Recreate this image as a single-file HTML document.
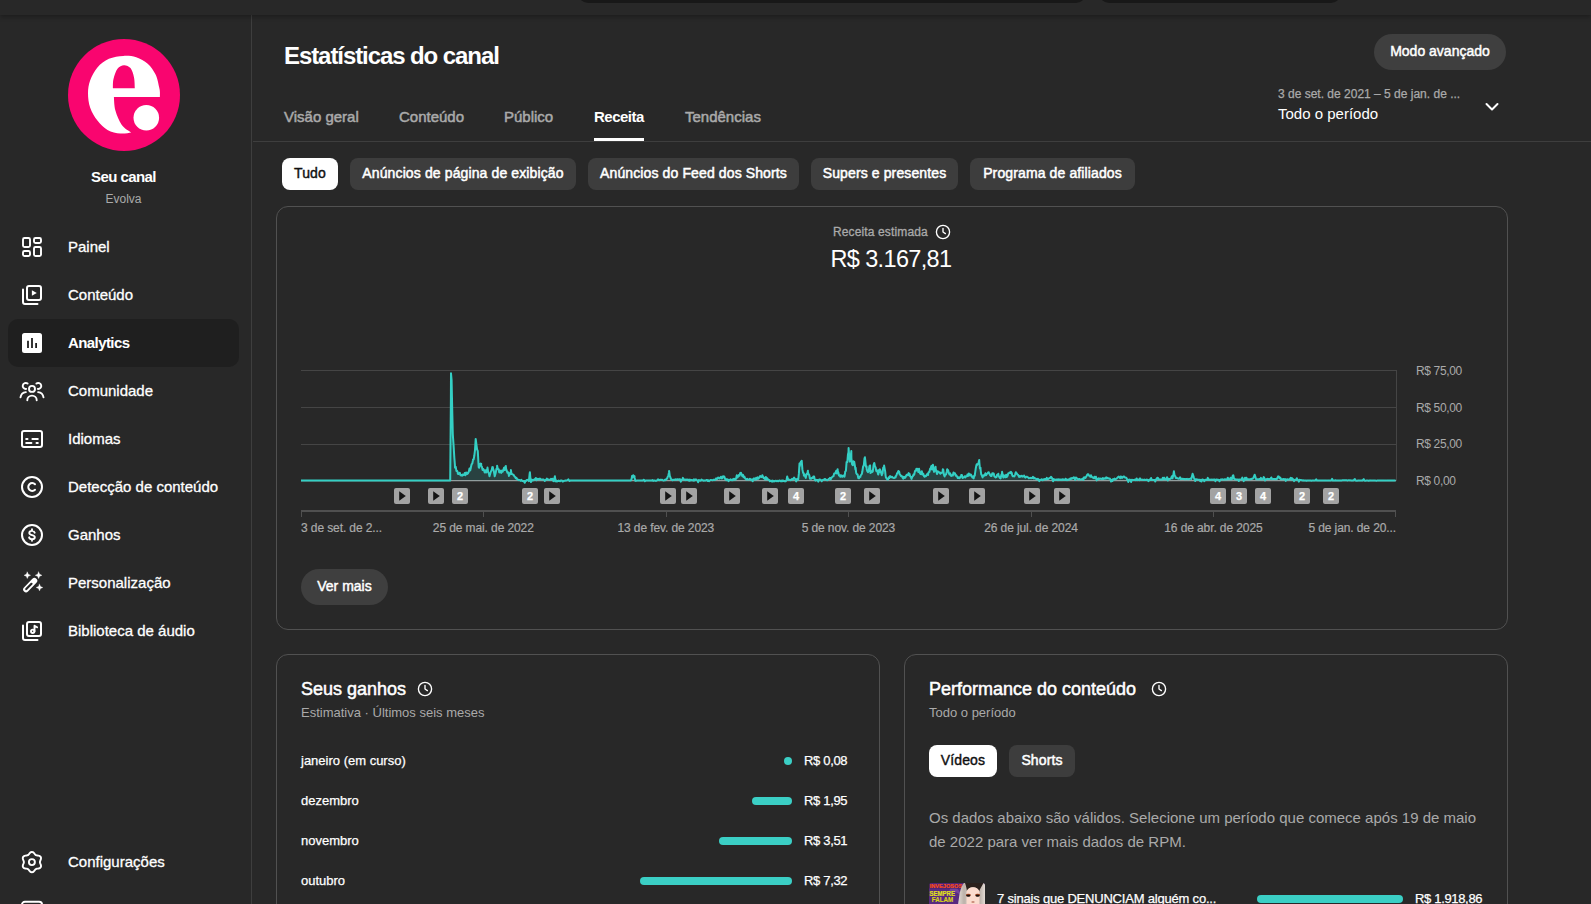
<!DOCTYPE html>
<html lang="pt-BR">
<head>
<meta charset="utf-8">
<title>Estatísticas do canal - YouTube Studio</title>
<style>
*{box-sizing:border-box;margin:0;padding:0}
html,body{width:1591px;height:904px;overflow:hidden;background:#282828;color:#fff;
  font-family:"Liberation Sans",sans-serif;-webkit-font-smoothing:antialiased}
.abs{position:absolute}
.t{position:absolute;white-space:nowrap;line-height:1}
#topbar{position:absolute;left:0;top:0;width:1591px;height:15px;background:#282828;box-shadow:0 2px 5px rgba(0,0,0,.3);z-index:5}
#topbar .sb{position:absolute;top:-30px;height:33px;background:#181818;border-radius:10px}
#side{position:absolute;left:0;top:0;width:252px;height:904px;border-right:1px solid #3e3e3e}
.nav{position:absolute;left:8px;width:231px;height:48px;border-radius:10px}
.nav.on{background:#1f1f1f}
.nav svg{position:absolute;left:12px;top:12px;width:24px;height:24px;fill:none;stroke:#fff;stroke-width:1.9;stroke-linecap:round;stroke-linejoin:round}
.nav span{position:absolute;left:60px;top:16px;font-size:15px;line-height:16px;font-weight:400;white-space:nowrap;color:#fff;-webkit-text-stroke:.3px #fff}
.nav.on span{font-weight:700;-webkit-text-stroke:0;letter-spacing:-.58px}
#main{position:absolute;left:0;top:0;width:1591px;height:904px}
.tab{position:absolute;top:109px;font-size:15px;line-height:16px;color:#aaa;white-space:nowrap;-webkit-text-stroke:.5px #aaa}
.tab.on{color:#fff;font-weight:700;-webkit-text-stroke:0;letter-spacing:-.5px}
.chip{position:absolute;height:32px;border-radius:8px;background:#3d3d3d;color:#fff;font-size:14px;line-height:30px;text-align:center;white-space:nowrap;letter-spacing:.12px;-webkit-text-stroke:.5px #fff}
.chip.on{background:#fff;color:#0f0f0f;-webkit-text-stroke:.4px #0f0f0f}
.card{position:absolute;border:1px solid #515151;border-radius:12px;background:#282828}
.pill{position:absolute;border-radius:18px;background:#3f3f3f;color:#fff;font-size:14px;text-align:center;white-space:nowrap;-webkit-text-stroke:.45px #fff}
</style>
</head>
<body>
<div id="topbar"><div class="sb" style="left:578px;width:508px"></div><div class="sb" style="left:1099px;width:242px"></div></div>

<div id="side">
<svg class="abs" style="left:68px;top:39px" width="112" height="112" viewBox="0 0 112 112">
<circle cx="56" cy="56" r="56" fill="#f9056f"/>
<path fill="#fff" fill-rule="evenodd" d="M91.9 57.9C91.9 57.1 92.0 54.6 91.9 53.0C91.8 51.4 91.9 51.4 91.2 48.5C90.5 45.6 89.5 39.6 87.6 35.6C85.7 31.7 82.9 27.7 79.7 24.8C76.5 21.9 72.3 19.6 68.2 18.3C64.1 17.0 59.8 16.6 55.3 16.9C50.8 17.1 45.2 17.9 40.9 19.8C36.6 21.7 32.5 24.8 29.4 28.4C26.3 32.0 23.8 37.0 22.2 41.3C20.6 45.6 20.0 49.7 20.0 54.3C20.0 58.9 20.6 64.2 22.2 68.7C23.8 73.2 26.5 77.9 29.4 81.6C32.3 85.3 35.7 88.8 39.5 90.9C43.3 93.1 48.4 94.1 52.4 94.5C56.4 94.9 61.4 93.6 63.2 93.4L63.2 93.4C61.6 92.2 56.4 89.6 53.8 85.9C51.2 82.2 48.7 76.2 47.4 71.5C46.1 66.8 46.1 60.2 45.9 57.9Z M44.9 49.2C45.0 47.7 44.7 43.1 45.5 39.9C46.3 36.7 47.8 32.1 49.5 29.8C51.2 27.5 53.8 26.3 56.0 26.2C58.2 26.1 60.8 27.1 62.5 29.1C64.2 31.2 65.3 35.1 66.0 38.5C66.7 41.9 66.7 47.4 66.8 49.2Z"/>
<circle cx="78.300" cy="78.700" r="12.800" fill="#fff"/>
</svg>
<div class="t" style="left:0;width:247px;text-align:center;top:169px;font-size:15px;font-weight:700;letter-spacing:-.58px">Seu canal</div>
<div class="t" style="left:0;width:247px;text-align:center;top:193px;font-size:12px;color:#aaa">Evolva</div>

<div class="nav" style="top:223px"><svg viewBox="0 0 24 24" stroke-width="2"><rect x="3" y="3" width="7" height="9" rx="1.500"/><rect x="14" y="3" width="7" height="5" rx="1.500"/><rect x="3" y="16" width="7" height="5" rx="1.500"/><rect x="14" y="12" width="7" height="9" rx="1.500"/></svg><span>Painel</span></div>
<div class="nav" style="top:271px"><svg viewBox="0 0 24 24"><rect x="7" y="3" width="14" height="14" rx="2" stroke-width="2"/><path d="M3 6.500v12.500a2 2 0 0 0 2 2H17.500" stroke-width="2"/><path d="M11.900 7.300v5.400l4.900-2.700z" fill="#fff" stroke="none"/></svg><span>Conteúdo</span></div>
<div class="nav on" style="top:319px"><svg viewBox="0 0 24 24"><path fill="#fff" stroke="none" fill-rule="evenodd" d="M4.500 2h15a2.500 2.500 0 0 1 2.500 2.500v15a2.500 2.500 0 0 1-2.500 2.500h-15a2.500 2.500 0 0 1-2.500-2.500v-15a2.500 2.500 0 0 1 2.500-2.500zM7.100 9.700h1.800v7.200H7.100zM11.100 7h1.800v9.900h-1.800zM15.200 12h1.800v4.900h-1.800z"/></svg><span>Analytics</span></div>
<div class="nav" style="top:367px"><svg viewBox="0 0 24 24" style="overflow:visible"><circle cx="12" cy="9.900" r="3"/><path d="M7.300 21.300a4.700 4.700 0 0 1 9.400 0"/><path d="M6.200 9.900A3 3 0 1 1 7.600 4.600"/><path d="M17.800 9.900A3 3 0 1 0 16.400 4.600"/><path d="M0.500 18.400c.4-2.800 2.600-5 5.400-5.300"/><path d="M23.500 18.400c-.4-2.800-2.600-5-5.400-5.300"/></svg><span>Comunidade</span></div>
<div class="nav" style="top:415px"><svg viewBox="0 0 24 24"><rect x="2" y="4" width="20" height="16" rx="2" stroke-width="2"/><path d="M6.200 12h1.300M12.400 12h5.400M6.200 16h5.200M16.500 16h1.300" stroke-width="2"/></svg><span>Idiomas</span></div>
<div class="nav" style="top:463px"><svg viewBox="0 0 24 24"><circle cx="12" cy="12" r="10" stroke-width="2"/><path d="M15 9.300a3.900 3.900 0 1 0 0 5.400" stroke-width="2"/></svg><span>Detecção de conteúdo</span></div>
<div class="nav" style="top:511px"><svg viewBox="0 0 24 24"><circle cx="12" cy="12" r="10" stroke-width="2"/><path d="M14.700 9.700c-.3-1.100-1.300-1.800-2.700-1.800-1.600 0-2.700.8-2.700 2 0 2.900 5.500 1.400 5.500 4.300 0 1.200-1.200 2-2.800 2-1.500 0-2.600-.7-2.900-1.900M12 6.300v1.600M12 16.200v1.600" stroke-width="1.900"/></svg><span>Ganhos</span></div>
<div class="nav" style="top:559px"><svg viewBox="0 0 24 24"><path d="M6 18.400L14.400 9.800" stroke-width="5.700"/><path d="M6.300 18.100L11.500 12.800" stroke="#282828" stroke-width="2.200"/><path fill="#fff" stroke="#fff" stroke-width=".4" d="M7.3 1.0999999999999996L8.3 3.3L10.5 4.3L8.3 5.3L7.3 7.5L6.3 5.3L4.1 4.3L6.3 3.3ZM18.6 1.0L19.6 3.3L21.900000000000002 4.3L19.6 5.3L18.6 7.6L17.6 5.3L15.3 4.3L17.6 3.3ZM19.5 13.2L20.5 15.5L22.8 16.5L20.5 17.5L19.5 19.8L18.5 17.5L16.2 16.5L18.5 15.5Z"/></svg><span>Personalização</span></div>
<div class="nav" style="top:607px"><svg viewBox="0 0 24 24"><rect x="7" y="3" width="14" height="14" rx="2" stroke-width="2"/><path d="M3 6.500v12.500a2 2 0 0 0 2 2H17.500" stroke-width="2"/><circle cx="12.700" cy="12.300" r="1.700"/><path d="M14.500 12.300V6.700l2.600 1.500" stroke-width="1.900"/></svg><span>Biblioteca de áudio</span></div>
<div class="nav" style="top:838px"><svg viewBox="0 0 24 24"><circle cx="11.900" cy="12.100" r="3"/><path d="M12.00 1.90L12.88 2.09L13.68 2.60L14.36 3.31L14.92 4.07L15.44 4.72L16.00 5.17L16.67 5.43L17.50 5.55L18.43 5.67L19.39 5.90L20.23 6.33L20.83 7.00L21.11 7.85L21.07 8.80L20.79 9.74L20.42 10.62L20.12 11.39L20.00 12.10L20.12 12.81L20.42 13.58L20.79 14.46L21.07 15.40L21.11 16.35L20.83 17.20L20.23 17.87L19.39 18.30L18.43 18.53L17.50 18.65L16.67 18.77L16.00 19.03L15.44 19.48L14.92 20.13L14.36 20.89L13.68 21.60L12.88 22.11L12.00 22.30L11.12 22.11L10.32 21.60L9.64 20.89L9.08 20.13L8.56 19.48L8.00 19.03L7.33 18.77L6.50 18.65L5.57 18.53L4.61 18.30L3.77 17.87L3.17 17.20L2.89 16.35L2.93 15.40L3.21 14.46L3.58 13.58L3.88 12.81L4.00 12.10L3.88 11.39L3.58 10.62L3.21 9.74L2.93 8.80L2.89 7.85L3.17 7.00L3.77 6.33L4.61 5.90L5.57 5.67L6.50 5.55L7.33 5.43L8.00 5.17L8.56 4.72L9.08 4.07L9.64 3.31L10.32 2.60L11.12 2.09Z" transform="translate(-.1 0)"/></svg><span>Configurações</span></div>
<div class="nav" style="top:887px"><svg viewBox="0 0 24 24"><rect x="1.900" y="2.800" width="20.200" height="17" rx="3"/></svg><span>Enviar feedback</span></div>
</div>

<div id="main">
<div class="t" style="left:284px;top:44px;font-size:24px;font-weight:700;letter-spacing:-1.08px">Estatísticas do canal</div>
<div class="pill" style="left:1374px;top:34px;width:132px;height:36px;line-height:35px">Modo avançado</div>

<div class="tab" style="left:284px">Visão geral</div>
<div class="tab" style="left:399px">Conteúdo</div>
<div class="tab" style="left:504px">Público</div>
<div class="tab on" style="left:594px">Receita</div>
<div class="tab" style="left:685px">Tendências</div>
<div class="abs" style="left:594px;top:138px;width:50px;height:3px;background:#fff"></div>
<div class="abs" style="left:253px;top:141px;width:1338px;height:1px;background:#3e3e3e"></div>

<div class="t" style="left:1278px;top:88px;font-size:12px;color:#aaa;-webkit-text-stroke:.25px #aaa">3 de set. de 2021 – 5 de jan. de ...</div>
<div class="t" style="left:1278px;top:106px;font-size:15px;color:#fff">Todo o período</div>
<svg class="abs" style="left:1480px;top:95px" width="24" height="24" viewBox="0 0 24 24" fill="none" stroke="#fff" stroke-width="2" stroke-linecap="round" stroke-linejoin="round"><path d="M6.500 9l5.500 5.500L17.500 9"/></svg>

<div class="chip on" style="left:282px;top:158px;width:56px">Tudo</div>
<div class="chip" style="left:350px;top:158px;width:226px">Anúncios de página de exibição</div>
<div class="chip" style="left:588px;top:158px;width:211px">Anúncios do Feed dos Shorts</div>
<div class="chip" style="left:811px;top:158px;width:147px">Supers e presentes</div>
<div class="chip" style="left:970px;top:158px;width:165px">Programa de afiliados</div>

<div class="card" style="left:276px;top:206px;width:1232px;height:424px"></div>
<div class="t" style="left:833px;top:226px;font-size:12px;color:#aaa;letter-spacing:.13px;-webkit-text-stroke:.3px #aaa">Receita estimada</div>
<svg class="abs" style="left:935px;top:224px" width="16" height="16" viewBox="0 0 16 16" fill="none" stroke="#fff" stroke-width="1.350" stroke-linecap="round" stroke-linejoin="round"><circle cx="8" cy="8" r="6.600"/><path d="M8 4.300V8l2.400 1.600"/></svg>
<div class="t" style="left:800px;width:182px;text-align:center;top:248px;font-size:23.5px;letter-spacing:-.65px;color:#fff">R$ 3.167,81</div>
<!--CHART-S--><svg class="abs" style="left:0;top:0" width="1591" height="560" viewBox="0 0 1591 560">
<g stroke="#454545" stroke-width="1" shape-rendering="crispEdges">
<path d="M301 370.5H1396"/>
<path d="M301 407.5H1396"/>
<path d="M301 444.5H1396"/>
<path d="M1396.500 370V481"/>
</g>
<path d="M301 480.600H1396" stroke="#9a9a9a" stroke-width="1.300"/>
<path d="M301.0,480.6 L301.0,480.6 L301.7,480.6 L302.4,480.6 L303.1,480.6 L303.8,480.6 L304.5,480.6 L305.1,480.6 L305.8,480.6 L306.5,480.6 L307.2,480.6 L307.9,480.6 L308.6,480.6 L309.3,480.6 L310.0,480.6 L310.7,480.6 L311.4,480.6 L312.0,480.6 L312.7,480.6 L313.4,480.6 L314.1,480.6 L314.8,480.6 L315.5,480.6 L316.2,480.6 L316.9,480.6 L317.6,480.6 L318.3,480.6 L319.0,480.6 L319.6,480.6 L320.3,480.6 L321.0,480.6 L321.7,480.6 L322.4,480.6 L323.1,480.6 L323.8,480.6 L324.5,480.6 L325.2,480.6 L325.9,480.6 L326.6,480.6 L327.2,480.6 L327.9,480.6 L328.6,480.6 L329.3,480.6 L330.0,480.6 L330.7,480.6 L331.4,480.6 L332.1,480.6 L332.8,480.6 L333.5,480.6 L334.1,480.6 L334.8,480.6 L335.5,480.6 L336.2,480.6 L336.9,480.6 L337.6,480.6 L338.3,480.6 L339.0,480.6 L339.7,480.6 L340.4,480.6 L341.1,480.6 L341.7,480.6 L342.4,480.6 L343.1,480.6 L343.8,480.6 L344.5,480.6 L345.2,480.6 L345.9,480.6 L346.6,480.6 L347.3,480.6 L348.0,480.6 L348.7,480.6 L349.3,480.6 L350.0,480.6 L350.7,480.6 L351.4,480.6 L352.1,480.6 L352.8,480.6 L353.5,480.6 L354.2,480.6 L354.9,480.6 L355.6,480.6 L356.2,480.6 L356.9,480.6 L357.6,480.6 L358.3,480.6 L359.0,480.6 L359.7,480.6 L360.4,480.6 L361.1,480.6 L361.8,480.6 L362.5,480.6 L363.2,480.6 L363.8,480.6 L364.5,480.6 L365.2,480.6 L365.9,480.6 L366.6,480.6 L367.3,480.6 L368.0,480.6 L368.7,480.6 L369.4,480.6 L370.1,480.6 L370.8,480.6 L371.4,480.6 L372.1,480.6 L372.8,480.6 L373.5,480.6 L374.2,480.6 L374.9,480.6 L375.6,480.6 L376.3,480.6 L377.0,480.6 L377.7,480.6 L378.3,480.6 L379.0,480.6 L379.7,480.6 L380.4,480.6 L381.1,480.6 L381.8,480.6 L382.5,480.6 L383.2,480.6 L383.9,480.6 L384.6,480.6 L385.3,480.6 L385.9,480.6 L386.6,480.6 L387.3,480.6 L388.0,480.6 L388.7,480.6 L389.4,480.6 L390.1,480.6 L390.8,480.6 L391.5,480.6 L392.2,480.6 L392.8,480.6 L393.5,480.6 L394.2,480.6 L394.9,480.6 L395.6,480.6 L396.3,480.6 L397.0,480.6 L397.7,480.6 L398.4,480.6 L399.1,480.6 L399.8,480.6 L400.4,480.6 L401.1,480.6 L401.8,480.6 L402.5,480.6 L403.2,480.6 L403.9,480.6 L404.6,480.6 L405.3,480.6 L406.0,480.6 L406.7,480.6 L407.4,480.6 L408.0,480.6 L408.7,480.6 L409.4,480.6 L410.1,480.6 L410.8,480.6 L411.5,480.6 L412.2,480.6 L412.9,480.6 L413.6,480.6 L414.3,480.6 L414.9,480.6 L415.6,480.6 L416.3,480.6 L417.0,480.6 L417.7,480.6 L418.4,480.6 L419.1,480.6 L419.8,480.6 L420.5,480.6 L421.2,480.6 L421.9,480.6 L422.5,480.6 L423.2,480.6 L423.9,480.6 L424.6,480.6 L425.3,480.6 L426.0,480.6 L426.7,480.6 L427.4,480.6 L428.1,480.6 L428.8,480.6 L429.5,480.6 L430.1,480.6 L430.8,480.6 L431.5,480.6 L432.2,480.6 L432.9,480.6 L433.6,480.6 L434.3,480.6 L435.0,480.6 L435.7,480.6 L436.4,480.6 L437.0,480.6 L437.7,480.6 L438.4,480.6 L439.1,480.6 L439.8,480.6 L440.5,480.6 L441.2,480.6 L441.9,480.6 L442.6,480.6 L443.3,480.6 L444.0,480.6 L444.6,480.6 L445.3,480.6 L446.0,480.6 L446.7,480.6 L447.4,480.6 L448.1,480.6 L448.8,480.6 L449.5,480.6 L450.2,480.6 L450.9,398.3 L451.0,373.3 L451.6,380.0 L451.6,380.6 L452.2,409.1 L452.8,434.0 L452.9,435.9 L453.6,445.5 L454.3,457.3 L454.9,464.6 L455.0,467.6 L455.7,466.7 L456.4,470.9 L457.1,470.8 L457.7,472.2 L457.8,473.8 L458.5,474.1 L459.1,473.5 L459.8,472.7 L460.5,475.3 L461.2,475.4 L461.9,474.9 L462.5,475.6 L462.6,474.5 L463.3,475.0 L464.0,475.0 L464.7,473.0 L465.4,475.3 L466.1,472.5 L466.7,473.9 L467.3,472.9 L467.4,473.9 L468.1,473.2 L468.8,471.6 L469.5,468.4 L470.2,470.4 L470.8,468.0 L470.9,467.3 L471.6,464.3 L472.3,463.6 L472.9,460.4 L473.0,459.6 L473.6,459.6 L474.3,455.8 L475.0,450.0 L475.7,438.9 L475.9,440.4 L476.4,444.3 L477.1,449.6 L477.7,450.7 L477.8,451.3 L478.5,464.0 L478.7,467.3 L479.2,467.8 L479.9,464.0 L480.6,463.5 L481.2,463.9 L481.2,465.8 L481.9,466.8 L482.6,470.1 L482.6,470.0 L483.3,469.1 L484.0,470.3 L484.7,472.5 L485.3,472.2 L485.4,470.3 L486.1,472.5 L486.8,470.1 L487.4,468.7 L487.5,467.6 L488.2,472.4 L488.8,473.1 L489.5,476.3 L489.7,475.6 L490.2,473.8 L490.9,471.5 L491.6,470.4 L492.3,467.1 L492.9,467.3 L493.0,468.7 L493.7,470.4 L494.4,474.4 L494.7,476.3 L495.1,474.9 L495.7,472.8 L496.4,468.8 L497.1,468.0 L497.1,465.8 L497.8,469.0 L498.5,468.9 L499.2,472.4 L499.9,470.5 L500.6,471.6 L501.2,472.9 L501.3,471.1 L502.0,470.5 L502.7,471.6 L503.3,470.2 L504.0,467.8 L504.7,470.1 L505.4,466.8 L505.8,466.0 L506.1,468.8 L506.8,470.8 L507.5,472.8 L508.2,472.3 L508.8,475.0 L508.9,475.9 L509.6,474.5 L510.3,473.0 L510.9,471.5 L510.9,470.1 L511.6,474.1 L512.3,473.9 L513.0,474.7 L513.7,475.0 L514.4,476.4 L515.1,476.8 L515.8,478.3 L516.5,477.9 L517.2,479.3 L517.8,479.4 L518.5,480.2 L519.2,479.9 L519.9,480.1 L520.6,480.8 L521.3,479.9 L522.0,480.6 L522.7,481.1 L523.4,481.2 L524.1,481.5 L524.8,482.8 L525.4,481.0 L526.1,480.9 L526.8,479.9 L527.5,479.9 L528.2,479.7 L528.9,481.2 L529.6,474.2 L529.9,472.2 L530.3,477.1 L531.0,482.0 L531.7,479.8 L532.4,480.5 L533.0,479.8 L533.7,480.2 L534.4,479.2 L535.1,479.3 L535.8,478.0 L536.5,480.3 L537.2,479.2 L537.9,478.7 L538.6,479.4 L539.3,479.6 L539.9,478.6 L540.6,479.2 L541.3,479.4 L542.0,479.4 L542.7,479.6 L543.4,479.5 L544.1,479.8 L544.8,480.9 L545.5,480.0 L546.2,479.7 L546.9,478.5 L547.5,479.5 L548.2,479.4 L548.9,479.4 L549.6,480.0 L550.3,480.0 L551.0,478.9 L551.7,479.3 L552.4,478.7 L553.1,480.8 L553.8,481.2 L554.4,478.2 L554.9,476.3 L555.1,478.0 L555.8,481.4 L556.5,480.8 L557.2,481.5 L557.9,481.1 L558.6,480.6 L559.3,481.1 L560.0,481.2 L560.7,480.5 L561.4,480.5 L562.0,480.5 L562.7,481.6 L563.4,481.4 L564.1,480.7 L564.8,480.8 L565.5,480.5 L566.2,480.4 L566.9,480.4 L567.6,480.1 L568.3,479.3 L569.0,480.3 L569.6,481.0 L570.3,480.5 L571.0,480.6 L571.7,480.6 L572.4,480.6 L573.1,480.6 L573.8,480.6 L574.5,480.6 L575.2,480.6 L575.9,480.6 L576.5,480.6 L577.2,480.6 L577.9,480.6 L578.6,480.6 L579.3,480.6 L580.0,480.6 L580.7,480.6 L581.4,480.6 L582.1,480.6 L582.8,480.6 L583.5,480.6 L584.1,480.6 L584.8,480.6 L585.5,480.6 L586.2,480.6 L586.9,480.6 L587.6,480.6 L588.3,480.6 L589.0,480.6 L589.7,480.6 L590.4,480.6 L591.1,480.6 L591.7,480.6 L592.4,480.6 L593.1,480.6 L593.8,480.6 L594.5,480.6 L595.2,480.6 L595.9,480.6 L596.6,480.6 L597.3,480.6 L598.0,480.6 L598.6,480.6 L599.3,480.6 L600.0,480.6 L600.7,480.6 L601.4,480.6 L602.1,480.6 L602.8,480.6 L603.5,480.6 L604.2,480.6 L604.9,480.6 L605.6,480.6 L606.2,480.6 L606.9,480.6 L607.6,480.6 L608.3,480.6 L609.0,480.6 L609.7,480.6 L610.4,480.6 L611.1,480.6 L611.8,480.6 L612.5,480.6 L613.2,480.6 L613.8,480.6 L614.5,480.6 L615.2,480.6 L615.9,480.6 L616.6,480.6 L617.3,480.6 L618.0,480.6 L618.7,480.6 L619.4,480.6 L620.1,480.6 L620.7,480.6 L621.4,480.6 L622.1,480.6 L622.8,480.6 L623.5,480.6 L624.2,480.6 L624.9,480.6 L625.6,480.6 L626.3,480.6 L627.0,480.6 L627.7,480.6 L628.3,480.6 L629.0,480.6 L629.7,480.6 L630.4,480.6 L631.1,480.3 L631.8,477.9 L632.0,476.1 L632.5,477.4 L633.2,475.3 L633.9,476.7 L634.5,476.1 L634.6,477.4 L635.3,480.7 L635.9,480.9 L636.6,480.6 L637.3,480.6 L638.0,480.6 L638.7,480.6 L639.4,480.6 L640.1,480.6 L640.8,480.6 L641.5,480.6 L642.2,480.6 L642.8,480.6 L643.5,479.8 L644.2,480.0 L644.9,481.1 L645.6,480.6 L646.3,480.6 L647.0,480.6 L647.7,480.6 L648.4,480.6 L649.1,480.6 L649.8,480.6 L650.4,480.6 L651.1,480.6 L651.8,480.6 L652.5,480.1 L653.2,480.9 L653.9,480.6 L654.6,480.6 L655.3,480.7 L656.0,480.9 L656.7,480.5 L657.3,480.3 L658.0,479.3 L658.7,480.0 L659.4,480.3 L660.1,479.8 L660.8,479.8 L661.5,480.0 L662.2,479.8 L662.9,480.3 L663.6,480.6 L664.3,480.4 L664.9,479.7 L665.6,480.1 L666.3,479.1 L667.0,478.6 L667.7,476.8 L668.4,475.3 L669.0,472.4 L669.1,470.9 L669.8,475.8 L670.5,477.7 L671.2,479.5 L671.9,479.6 L672.5,480.3 L673.2,479.8 L673.9,479.9 L674.6,479.6 L675.3,479.3 L676.0,479.9 L676.7,479.4 L677.4,479.2 L678.1,479.4 L678.8,479.7 L679.4,479.3 L680.1,479.2 L680.8,481.7 L681.5,480.0 L682.2,479.7 L682.9,477.9 L683.6,479.4 L684.3,479.8 L685.0,479.5 L685.7,480.1 L686.4,479.5 L687.0,480.0 L687.7,479.5 L688.4,480.4 L689.1,479.5 L689.8,480.6 L690.5,479.7 L691.2,480.2 L691.9,480.0 L692.6,480.3 L693.3,480.6 L694.0,479.3 L694.6,480.4 L695.3,479.9 L696.0,479.4 L696.7,480.0 L697.4,480.4 L698.1,482.2 L698.8,480.1 L699.5,480.2 L700.2,480.7 L700.9,480.6 L701.5,479.6 L702.2,480.2 L702.9,480.3 L703.6,480.7 L704.3,480.5 L705.0,480.6 L705.7,480.5 L706.4,480.0 L707.1,479.9 L707.8,481.0 L708.5,480.3 L709.1,481.1 L709.8,480.5 L710.5,480.0 L711.2,479.9 L711.9,480.1 L712.6,480.2 L713.3,480.1 L714.0,479.6 L714.7,480.0 L715.4,479.7 L716.1,478.4 L716.7,479.0 L717.4,478.9 L718.1,477.5 L718.8,477.9 L719.5,478.4 L720.2,477.8 L720.9,476.7 L721.6,478.4 L722.3,478.2 L723.0,476.3 L723.6,476.5 L724.3,476.5 L725.0,478.9 L725.7,478.8 L726.4,480.2 L727.1,479.3 L727.8,479.4 L728.5,481.1 L729.2,480.0 L729.9,479.9 L730.6,479.4 L731.2,480.2 L731.9,479.8 L732.6,480.3 L733.3,478.9 L734.0,479.6 L734.7,478.8 L735.4,479.7 L736.1,478.5 L736.8,475.2 L737.5,477.5 L738.0,476.6 L738.1,476.6 L738.8,475.1 L739.5,475.8 L740.2,473.0 L740.8,473.4 L740.9,472.7 L741.6,474.4 L742.3,476.1 L743.0,474.8 L743.0,476.1 L743.7,477.2 L744.4,476.5 L745.1,478.4 L745.7,478.8 L746.4,479.6 L747.1,478.8 L747.8,479.3 L748.5,479.7 L749.2,479.3 L749.9,478.7 L750.6,479.4 L751.3,480.3 L752.0,479.3 L752.7,481.2 L753.3,479.3 L754.0,478.3 L754.7,478.6 L755.4,479.7 L756.1,477.9 L756.8,479.2 L757.5,477.4 L758.2,478.8 L758.9,478.0 L759.6,476.6 L760.2,476.0 L760.9,477.0 L761.6,477.0 L762.0,476.2 L762.3,475.3 L763.0,476.7 L763.7,478.1 L764.4,477.7 L765.1,479.5 L765.8,476.9 L766.5,479.3 L767.2,478.2 L767.8,479.2 L768.5,480.1 L769.2,479.9 L769.9,481.2 L770.6,480.7 L771.3,480.8 L772.0,481.7 L772.7,480.5 L773.4,481.4 L774.1,481.1 L774.8,481.4 L775.4,480.8 L776.1,480.8 L776.8,481.3 L777.5,480.7 L778.2,481.3 L778.9,480.9 L779.6,480.4 L780.3,480.6 L781.0,481.5 L781.7,480.5 L782.3,481.2 L783.0,480.4 L783.7,481.1 L784.4,481.2 L785.1,481.4 L785.8,481.2 L786.5,480.2 L787.2,476.4 L787.9,478.9 L788.6,480.0 L789.3,479.7 L789.9,479.8 L790.6,480.2 L791.3,479.7 L792.0,478.9 L792.7,479.7 L793.4,478.7 L794.1,477.5 L794.8,478.7 L795.5,479.5 L796.2,481.4 L796.9,479.0 L797.5,479.0 L798.2,479.7 L798.9,473.4 L799.5,463.6 L799.6,466.4 L800.3,463.7 L801.0,461.4 L801.6,463.6 L801.7,460.7 L802.4,469.4 L803.1,472.9 L803.8,473.4 L803.9,475.6 L804.4,474.6 L805.1,476.4 L805.8,477.9 L806.5,474.0 L807.2,474.2 L807.9,470.8 L807.9,472.4 L808.6,473.9 L809.3,475.3 L810.0,478.8 L810.7,478.6 L811.4,478.7 L812.0,477.7 L812.7,478.0 L813.4,476.5 L814.1,476.4 L814.8,479.8 L815.5,480.6 L816.2,479.8 L816.9,480.2 L817.6,480.0 L818.3,481.6 L818.9,479.9 L819.6,479.4 L820.3,479.8 L821.0,479.9 L821.7,481.3 L822.4,480.3 L823.1,479.7 L823.8,479.8 L824.5,479.1 L825.2,479.1 L825.9,479.6 L826.5,480.0 L827.2,480.2 L827.9,480.0 L828.6,479.0 L829.3,478.8 L830.0,477.8 L830.7,479.4 L831.4,477.9 L832.1,477.1 L832.8,476.4 L833.5,476.2 L834.1,473.6 L834.8,473.6 L835.3,473.1 L835.5,472.6 L836.2,470.9 L836.9,473.6 L837.6,469.2 L837.8,471.2 L838.3,472.3 L839.0,475.5 L839.1,475.6 L839.7,475.0 L840.4,476.8 L841.0,475.3 L841.7,476.6 L842.4,476.8 L843.1,475.5 L843.8,476.1 L844.5,476.6 L844.7,475.6 L845.2,471.6 L845.9,470.8 L846.6,461.9 L847.3,462.0 L848.0,454.2 L848.5,452.3 L848.6,448.1 L849.3,457.5 L849.8,461.6 L850.0,458.6 L850.7,457.1 L851.3,451.1 L851.4,458.0 L852.1,464.5 L852.3,463.0 L852.8,465.3 L853.5,461.3 L854.2,462.3 L854.2,461.7 L854.9,465.8 L855.4,469.3 L855.6,467.7 L856.2,473.1 L856.9,474.3 L857.6,474.5 L858.3,478.0 L859.0,478.3 L859.7,476.8 L860.4,476.8 L860.5,475.6 L861.1,474.9 L861.8,474.0 L862.3,471.8 L862.5,470.5 L863.1,466.5 L863.8,465.4 L864.5,458.3 L864.9,457.3 L865.2,459.7 L865.9,466.6 L866.6,466.3 L866.7,469.3 L867.3,471.2 L868.0,472.2 L868.0,470.6 L868.7,471.0 L869.4,466.2 L869.9,465.6 L870.1,465.4 L870.5,473.1 L870.7,471.7 L871.4,472.3 L872.1,472.0 L872.4,470.6 L872.8,471.5 L873.5,465.3 L874.2,463.0 L874.3,463.0 L874.9,466.3 L875.6,467.3 L876.2,470.6 L876.3,471.0 L877.0,470.3 L877.7,472.6 L878.1,474.3 L878.3,474.5 L879.0,470.0 L879.7,472.1 L879.9,469.3 L880.4,470.5 L881.1,472.8 L881.8,475.2 L881.8,474.3 L882.5,473.6 L883.2,467.6 L883.9,469.5 L884.1,465.6 L884.6,468.4 L885.2,471.6 L885.6,475.6 L885.9,477.3 L886.6,478.6 L887.3,479.4 L888.0,479.5 L888.7,477.2 L889.4,478.0 L890.1,476.1 L890.8,476.5 L891.5,477.3 L892.2,476.8 L892.8,477.6 L893.5,477.9 L894.2,477.9 L894.9,477.3 L895.6,477.5 L895.7,476.2 L896.3,475.8 L897.0,473.5 L897.7,472.7 L898.4,471.0 L898.8,471.8 L899.1,471.5 L899.7,474.5 L900.4,474.9 L900.7,475.6 L901.1,476.2 L901.8,476.0 L902.5,477.4 L903.2,478.6 L903.9,476.7 L904.6,477.9 L905.3,477.7 L906.0,476.0 L906.7,474.8 L907.3,474.7 L908.0,475.4 L908.7,473.1 L909.4,474.4 L909.5,473.7 L910.1,476.3 L910.8,476.6 L911.5,478.9 L912.2,476.9 L912.9,476.2 L913.6,474.4 L913.9,474.9 L914.3,474.2 L914.9,471.4 L915.6,470.3 L916.3,469.9 L916.4,468.7 L917.0,470.6 L917.7,468.9 L918.3,469.9 L918.4,472.1 L919.1,468.8 L919.8,472.9 L920.5,474.0 L920.8,472.4 L921.2,474.2 L921.8,471.3 L922.5,473.9 L923.2,475.0 L923.3,473.7 L923.9,476.0 L924.6,476.7 L925.3,475.7 L926.0,476.2 L926.7,474.9 L927.4,473.7 L928.1,475.0 L928.3,473.1 L928.8,472.0 L929.4,472.0 L930.1,468.8 L930.8,469.3 L930.8,467.6 L931.5,465.9 L932.2,469.5 L932.7,466.1 L932.9,464.8 L933.6,468.0 L934.0,471.8 L934.3,468.9 L935.0,470.9 L935.6,466.8 L935.7,468.8 L936.4,471.6 L937.0,474.1 L937.1,472.4 L937.7,471.3 L938.4,471.7 L939.1,472.7 L939.8,472.3 L940.3,473.7 L940.5,472.9 L941.2,473.0 L941.9,472.8 L942.6,471.7 L942.8,469.3 L943.3,469.8 L943.9,474.6 L944.6,476.5 L944.7,476.2 L945.3,474.7 L946.0,474.5 L946.7,471.8 L947.2,469.3 L947.4,470.8 L948.1,470.1 L948.8,473.0 L949.5,474.5 L949.7,474.3 L950.2,473.4 L950.9,475.8 L951.5,475.9 L952.2,475.0 L952.9,475.4 L953.5,472.4 L953.6,472.9 L954.3,473.7 L955.0,473.4 L955.7,475.7 L956.0,475.6 L956.4,475.4 L957.1,476.6 L957.8,478.0 L958.5,477.3 L959.1,478.2 L959.8,478.0 L960.5,476.9 L961.0,475.6 L961.2,475.0 L961.9,475.0 L962.6,478.0 L963.3,477.4 L964.0,477.3 L964.7,476.2 L965.4,477.4 L966.0,476.2 L966.7,476.3 L967.3,475.6 L967.4,474.6 L968.1,475.9 L968.8,473.4 L969.5,475.2 L969.8,474.3 L970.2,475.6 L970.9,474.6 L971.6,475.8 L972.3,477.4 L973.0,476.6 L973.6,478.4 L974.3,475.6 L974.8,475.6 L975.0,473.6 L975.7,468.8 L976.4,465.2 L976.7,464.3 L977.1,464.9 L977.8,463.9 L978.5,463.3 L978.6,462.4 L979.2,459.9 L979.4,463.0 L979.9,468.4 L980.5,467.8 L980.7,470.6 L981.2,474.3 L981.9,475.6 L982.6,477.4 L983.3,475.2 L984.0,475.7 L984.7,475.5 L985.4,473.3 L985.7,474.3 L986.1,475.1 L986.8,474.0 L987.5,473.5 L988.1,472.4 L988.8,472.2 L988.9,473.1 L989.5,473.5 L990.2,475.4 L990.7,475.6 L990.9,476.0 L991.6,476.0 L992.3,473.3 L993.0,473.4 L993.3,473.7 L993.7,473.5 L994.4,476.5 L995.1,476.9 L995.7,477.4 L996.4,477.1 L997.1,474.7 L997.8,475.4 L998.3,473.7 L998.5,475.3 L999.2,476.9 L999.9,478.0 L1000.6,478.5 L1001.3,475.0 L1002.0,473.7 L1002.1,471.8 L1002.6,474.7 L1003.3,477.6 L1004.0,475.4 L1004.7,475.8 L1005.4,477.3 L1006.1,474.8 L1006.8,477.0 L1007.5,476.0 L1007.7,475.6 L1008.2,473.5 L1008.9,473.2 L1009.6,472.5 L1010.2,472.8 L1010.9,471.8 L1010.9,473.2 L1011.6,472.6 L1012.3,475.6 L1013.0,476.4 L1013.4,476.2 L1013.7,476.1 L1014.4,476.4 L1015.1,474.5 L1015.8,472.2 L1015.9,473.1 L1016.5,473.0 L1017.2,474.3 L1017.8,474.6 L1018.4,475.6 L1018.5,475.8 L1019.2,476.9 L1019.9,475.9 L1020.6,476.7 L1021.3,476.1 L1022.0,475.7 L1022.7,476.7 L1023.4,476.2 L1024.0,476.2 L1024.1,475.6 L1024.7,476.8 L1025.4,477.6 L1026.1,476.8 L1026.8,476.7 L1027.5,477.1 L1028.2,477.4 L1028.9,478.3 L1029.6,478.1 L1030.3,477.8 L1031.0,478.3 L1031.7,477.9 L1032.3,478.0 L1033.0,476.8 L1033.7,478.4 L1034.4,477.8 L1035.1,478.5 L1035.8,478.8 L1036.5,478.9 L1037.2,479.5 L1037.9,478.8 L1038.6,479.6 L1039.3,481.2 L1039.9,479.8 L1040.6,480.1 L1041.3,479.3 L1042.0,479.5 L1042.7,480.2 L1043.4,479.3 L1044.1,479.7 L1044.8,478.9 L1045.5,479.0 L1046.2,479.4 L1046.8,477.9 L1047.5,478.8 L1048.2,479.1 L1048.9,478.5 L1049.6,477.9 L1050.3,477.9 L1051.0,476.8 L1051.7,477.4 L1052.4,479.1 L1053.1,481.2 L1053.8,478.9 L1054.4,480.0 L1055.1,480.0 L1055.8,479.6 L1056.5,479.7 L1057.2,479.3 L1057.9,480.2 L1058.6,479.3 L1059.3,479.5 L1060.0,480.1 L1060.7,479.5 L1061.3,479.4 L1062.0,480.1 L1062.7,479.2 L1063.4,479.5 L1064.1,480.0 L1064.8,480.1 L1065.5,478.7 L1066.2,479.3 L1066.9,480.1 L1067.6,479.6 L1068.3,479.4 L1068.9,479.8 L1069.6,479.1 L1070.3,478.4 L1071.0,479.1 L1071.7,478.1 L1072.4,478.5 L1073.1,477.7 L1073.8,477.2 L1074.5,478.6 L1075.2,479.9 L1075.9,477.4 L1076.5,478.1 L1077.2,478.7 L1077.9,479.1 L1078.6,479.4 L1079.3,478.9 L1080.0,479.4 L1080.7,479.7 L1081.4,479.2 L1082.1,479.2 L1082.8,478.6 L1083.4,479.9 L1084.1,477.2 L1084.8,477.4 L1085.5,477.9 L1086.2,476.5 L1086.9,475.6 L1086.9,475.3 L1087.6,474.3 L1088.3,474.2 L1089.0,475.7 L1089.7,475.9 L1090.4,476.8 L1090.7,475.6 L1091.0,475.3 L1091.7,476.8 L1092.4,477.2 L1093.1,477.8 L1093.8,478.1 L1094.5,476.7 L1095.2,478.3 L1095.9,476.7 L1096.6,480.4 L1097.3,478.8 L1098.0,479.4 L1098.6,478.3 L1099.3,479.0 L1100.0,478.5 L1100.7,478.7 L1101.4,478.7 L1102.1,479.2 L1102.8,478.1 L1103.5,478.9 L1104.2,478.2 L1104.9,478.7 L1105.5,478.5 L1106.2,477.4 L1106.9,478.5 L1107.6,477.9 L1108.3,478.4 L1109.0,478.7 L1109.7,478.5 L1110.4,479.2 L1111.1,481.6 L1111.8,480.0 L1112.5,480.9 L1113.1,479.1 L1113.8,479.6 L1114.5,478.6 L1115.2,479.4 L1115.9,479.0 L1116.6,478.6 L1117.3,477.9 L1118.0,477.0 L1118.7,476.6 L1119.4,477.2 L1120.1,478.1 L1120.7,476.5 L1121.4,476.7 L1122.1,477.9 L1122.8,477.2 L1123.5,476.5 L1124.2,476.6 L1124.9,477.5 L1125.6,477.6 L1126.3,477.8 L1127.0,479.2 L1127.6,479.2 L1128.3,482.0 L1129.0,480.2 L1129.7,479.6 L1130.4,480.1 L1131.1,482.0 L1131.8,479.7 L1132.5,480.0 L1133.2,480.1 L1133.9,480.0 L1134.6,479.8 L1135.2,479.7 L1135.9,480.2 L1136.6,478.5 L1137.3,480.2 L1138.0,479.7 L1138.7,479.6 L1139.4,480.2 L1140.1,478.4 L1140.8,479.6 L1141.5,479.8 L1142.2,479.6 L1142.8,479.9 L1143.5,480.1 L1144.2,479.6 L1144.9,480.1 L1145.6,479.9 L1146.3,479.6 L1147.0,480.1 L1147.7,479.7 L1148.4,481.2 L1149.1,480.0 L1149.7,479.5 L1150.4,479.9 L1151.1,478.0 L1151.8,479.8 L1152.5,479.9 L1153.2,479.9 L1153.9,479.9 L1154.6,479.9 L1155.3,481.5 L1156.0,479.3 L1156.7,479.3 L1157.3,477.7 L1158.0,477.9 L1158.7,479.2 L1159.4,479.4 L1160.1,479.5 L1160.8,479.4 L1161.5,479.6 L1162.2,479.6 L1162.9,477.7 L1163.6,479.1 L1164.2,477.7 L1164.9,479.4 L1165.6,479.3 L1166.3,479.2 L1167.0,477.3 L1167.7,480.5 L1168.4,478.8 L1169.1,479.0 L1169.8,478.9 L1170.5,478.8 L1171.2,478.1 L1171.8,476.4 L1172.5,478.3 L1173.2,475.6 L1173.9,471.3 L1174.6,475.6 L1175.3,476.2 L1176.0,478.1 L1176.7,478.0 L1177.4,478.2 L1178.1,478.5 L1178.8,478.7 L1179.4,478.5 L1180.1,477.4 L1180.8,479.1 L1181.5,478.8 L1182.2,479.0 L1182.9,478.8 L1183.6,478.9 L1184.3,479.2 L1185.0,479.0 L1185.7,479.2 L1186.3,479.1 L1187.0,478.8 L1187.7,479.3 L1188.4,479.1 L1189.1,479.2 L1189.8,478.9 L1190.5,478.6 L1191.2,479.0 L1191.9,476.4 L1192.6,473.8 L1193.3,475.8 L1193.9,477.6 L1194.6,479.3 L1195.3,481.0 L1196.0,479.2 L1196.7,479.5 L1197.4,479.5 L1198.1,479.8 L1198.8,479.7 L1199.5,479.8 L1200.2,481.1 L1200.9,479.8 L1201.5,481.5 L1202.2,479.5 L1202.9,479.6 L1203.6,479.9 L1204.3,481.2 L1205.0,479.9 L1205.7,479.7 L1206.4,479.9 L1207.1,479.9 L1207.8,477.9 L1208.4,479.7 L1209.1,480.0 L1209.8,479.5 L1210.5,479.8 L1211.2,479.8 L1211.9,479.5 L1212.6,479.8 L1213.3,479.8 L1214.0,479.4 L1214.7,479.4 L1215.4,481.2 L1216.0,479.7 L1216.7,479.4 L1217.4,479.7 L1218.1,479.7 L1218.8,479.9 L1219.5,481.3 L1220.2,479.8 L1220.9,479.4 L1221.6,479.5 L1222.3,479.3 L1223.0,479.8 L1223.6,479.6 L1224.3,479.6 L1225.0,479.2 L1225.7,479.6 L1226.4,479.5 L1227.1,479.5 L1227.8,477.7 L1228.5,479.3 L1229.2,479.3 L1229.9,479.3 L1230.5,477.8 L1231.2,479.4 L1231.9,479.2 L1232.6,476.1 L1233.3,475.2 L1234.0,478.8 L1234.7,479.3 L1235.4,479.3 L1236.1,479.4 L1236.8,479.4 L1237.5,479.6 L1238.1,479.4 L1238.8,481.0 L1239.5,479.5 L1240.2,479.6 L1240.9,479.4 L1241.6,479.1 L1242.3,477.6 L1243.0,479.7 L1243.7,481.1 L1244.4,479.5 L1245.0,477.7 L1245.7,479.6 L1246.4,477.7 L1247.1,479.5 L1247.8,479.3 L1248.5,479.2 L1249.2,479.4 L1249.9,479.3 L1250.6,479.2 L1251.3,478.8 L1252.0,478.9 L1252.6,478.7 L1253.3,478.1 L1254.0,476.3 L1254.7,474.7 L1255.4,476.8 L1256.1,479.2 L1256.8,479.2 L1257.5,479.3 L1258.2,479.2 L1258.9,479.3 L1259.6,479.0 L1260.2,479.3 L1260.9,477.8 L1261.6,479.3 L1262.3,479.6 L1263.0,479.0 L1263.7,477.1 L1264.4,478.3 L1265.1,480.6 L1265.8,479.4 L1266.5,479.1 L1267.1,478.9 L1267.8,478.8 L1268.5,479.1 L1269.2,479.2 L1269.9,479.0 L1270.6,478.8 L1271.3,477.5 L1272.0,479.2 L1272.7,479.1 L1273.4,478.9 L1274.1,479.1 L1274.7,479.0 L1275.4,479.2 L1276.1,478.9 L1276.8,479.2 L1277.5,477.6 L1278.2,476.3 L1278.9,476.7 L1279.6,478.3 L1280.3,477.6 L1281.0,479.3 L1281.7,479.2 L1282.3,479.4 L1283.0,479.1 L1283.7,478.9 L1284.4,479.5 L1285.1,479.1 L1285.8,480.9 L1286.5,479.4 L1287.2,479.3 L1287.9,479.5 L1288.6,479.4 L1289.2,479.3 L1289.9,479.1 L1290.6,477.9 L1291.3,479.7 L1292.0,478.1 L1292.7,479.7 L1293.4,479.4 L1294.1,481.1 L1294.8,479.9 L1295.5,479.7 L1296.2,479.8 L1296.8,478.3 L1297.5,479.6 L1298.2,480.0 L1298.9,481.7 L1299.6,479.8 L1300.3,480.1 L1301.0,480.1 L1301.7,480.2 L1302.4,480.4 L1303.1,480.3 L1303.8,480.4 L1304.4,480.4 L1305.1,480.5 L1305.8,480.5 L1306.5,480.7 L1307.2,480.5 L1307.9,480.5 L1308.6,480.5 L1309.3,480.5 L1310.0,480.5 L1310.7,480.6 L1311.3,480.7 L1312.0,480.6 L1312.7,480.6 L1313.4,480.6 L1314.1,480.6 L1314.8,480.6 L1315.5,480.3 L1316.2,479.3 L1316.9,480.6 L1317.6,480.6 L1318.3,480.6 L1318.9,480.6 L1319.6,480.6 L1320.3,480.6 L1321.0,480.6 L1321.7,480.6 L1322.4,480.6 L1323.1,480.6 L1323.8,480.6 L1324.5,480.6 L1325.2,480.6 L1325.8,480.6 L1326.5,480.6 L1327.2,480.4 L1327.9,480.6 L1328.6,480.6 L1329.3,480.6 L1330.0,480.4 L1330.7,480.6 L1331.4,480.4 L1332.1,478.8 L1332.8,480.5 L1333.4,480.5 L1334.1,480.5 L1334.8,480.5 L1335.5,480.3 L1336.2,480.4 L1336.9,480.4 L1337.6,480.4 L1338.3,480.4 L1339.0,480.4 L1339.7,480.4 L1340.4,480.4 L1341.0,480.4 L1341.7,480.4 L1342.4,480.3 L1343.1,480.3 L1343.8,480.3 L1344.5,480.3 L1345.2,480.3 L1345.9,480.3 L1346.6,480.3 L1347.3,480.4 L1347.9,480.4 L1348.6,480.2 L1349.3,480.4 L1350.0,480.2 L1350.7,480.4 L1351.4,480.4 L1352.1,480.5 L1352.8,480.5 L1353.5,480.5 L1354.2,479.6 L1354.9,479.1 L1355.5,480.6 L1356.2,480.6 L1356.9,480.8 L1357.6,480.6 L1358.3,480.6 L1359.0,480.6 L1359.7,480.4 L1360.4,480.6 L1361.1,480.6 L1361.8,480.6 L1362.5,480.6 L1363.1,479.8 L1363.8,479.1 L1364.5,480.6 L1365.2,480.8 L1365.9,480.6 L1366.6,480.4 L1367.3,480.6 L1368.0,480.6 L1368.7,480.8 L1369.4,480.4 L1370.0,480.6 L1370.7,480.6 L1371.4,480.6 L1372.1,480.4 L1372.8,480.6 L1373.5,480.4 L1374.2,480.6 L1374.9,480.6 L1375.6,480.6 L1376.3,480.8 L1377.0,480.6 L1377.6,480.6 L1378.3,480.6 L1379.0,480.6 L1379.7,480.6 L1380.4,480.6 L1381.1,480.6 L1381.8,480.6 L1382.5,480.6 L1383.2,480.6 L1383.9,480.6 L1384.6,480.4 L1385.2,480.6 L1385.9,480.4 L1386.6,480.6 L1387.3,480.6 L1388.0,480.6 L1388.7,480.6 L1389.4,480.6 L1390.1,480.6 L1390.8,480.6 L1391.5,480.6 L1392.1,480.6 L1392.8,480.6 L1393.5,480.6 L1394.2,480.6 L1394.9,480.6 L1395.6,480.6 L1395.6,480.6 Z" fill="#34cfc4" fill-opacity=".16" stroke="none"/>
<polyline points="301.0,480.6 301.7,480.6 302.4,480.6 303.1,480.6 303.8,480.6 304.5,480.6 305.1,480.6 305.8,480.6 306.5,480.6 307.2,480.6 307.9,480.6 308.6,480.6 309.3,480.6 310.0,480.6 310.7,480.6 311.4,480.6 312.0,480.6 312.7,480.6 313.4,480.6 314.1,480.6 314.8,480.6 315.5,480.6 316.2,480.6 316.9,480.6 317.6,480.6 318.3,480.6 319.0,480.6 319.6,480.6 320.3,480.6 321.0,480.6 321.7,480.6 322.4,480.6 323.1,480.6 323.8,480.6 324.5,480.6 325.2,480.6 325.9,480.6 326.6,480.6 327.2,480.6 327.9,480.6 328.6,480.6 329.3,480.6 330.0,480.6 330.7,480.6 331.4,480.6 332.1,480.6 332.8,480.6 333.5,480.6 334.1,480.6 334.8,480.6 335.5,480.6 336.2,480.6 336.9,480.6 337.6,480.6 338.3,480.6 339.0,480.6 339.7,480.6 340.4,480.6 341.1,480.6 341.7,480.6 342.4,480.6 343.1,480.6 343.8,480.6 344.5,480.6 345.2,480.6 345.9,480.6 346.6,480.6 347.3,480.6 348.0,480.6 348.7,480.6 349.3,480.6 350.0,480.6 350.7,480.6 351.4,480.6 352.1,480.6 352.8,480.6 353.5,480.6 354.2,480.6 354.9,480.6 355.6,480.6 356.2,480.6 356.9,480.6 357.6,480.6 358.3,480.6 359.0,480.6 359.7,480.6 360.4,480.6 361.1,480.6 361.8,480.6 362.5,480.6 363.2,480.6 363.8,480.6 364.5,480.6 365.2,480.6 365.9,480.6 366.6,480.6 367.3,480.6 368.0,480.6 368.7,480.6 369.4,480.6 370.1,480.6 370.8,480.6 371.4,480.6 372.1,480.6 372.8,480.6 373.5,480.6 374.2,480.6 374.9,480.6 375.6,480.6 376.3,480.6 377.0,480.6 377.7,480.6 378.3,480.6 379.0,480.6 379.7,480.6 380.4,480.6 381.1,480.6 381.8,480.6 382.5,480.6 383.2,480.6 383.9,480.6 384.6,480.6 385.3,480.6 385.9,480.6 386.6,480.6 387.3,480.6 388.0,480.6 388.7,480.6 389.4,480.6 390.1,480.6 390.8,480.6 391.5,480.6 392.2,480.6 392.8,480.6 393.5,480.6 394.2,480.6 394.9,480.6 395.6,480.6 396.3,480.6 397.0,480.6 397.7,480.6 398.4,480.6 399.1,480.6 399.8,480.6 400.4,480.6 401.1,480.6 401.8,480.6 402.5,480.6 403.2,480.6 403.9,480.6 404.6,480.6 405.3,480.6 406.0,480.6 406.7,480.6 407.4,480.6 408.0,480.6 408.7,480.6 409.4,480.6 410.1,480.6 410.8,480.6 411.5,480.6 412.2,480.6 412.9,480.6 413.6,480.6 414.3,480.6 414.9,480.6 415.6,480.6 416.3,480.6 417.0,480.6 417.7,480.6 418.4,480.6 419.1,480.6 419.8,480.6 420.5,480.6 421.2,480.6 421.9,480.6 422.5,480.6 423.2,480.6 423.9,480.6 424.6,480.6 425.3,480.6 426.0,480.6 426.7,480.6 427.4,480.6 428.1,480.6 428.8,480.6 429.5,480.6 430.1,480.6 430.8,480.6 431.5,480.6 432.2,480.6 432.9,480.6 433.6,480.6 434.3,480.6 435.0,480.6 435.7,480.6 436.4,480.6 437.0,480.6 437.7,480.6 438.4,480.6 439.1,480.6 439.8,480.6 440.5,480.6 441.2,480.6 441.9,480.6 442.6,480.6 443.3,480.6 444.0,480.6 444.6,480.6 445.3,480.6 446.0,480.6 446.7,480.6 447.4,480.6 448.1,480.6 448.8,480.6 449.5,480.6 450.2,480.6 450.9,398.3 451.0,373.3 451.6,380.0 451.6,380.6 452.2,409.1 452.8,434.0 452.9,435.9 453.6,445.5 454.3,457.3 454.9,464.6 455.0,467.6 455.7,466.7 456.4,470.9 457.1,470.8 457.7,472.2 457.8,473.8 458.5,474.1 459.1,473.5 459.8,472.7 460.5,475.3 461.2,475.4 461.9,474.9 462.5,475.6 462.6,474.5 463.3,475.0 464.0,475.0 464.7,473.0 465.4,475.3 466.1,472.5 466.7,473.9 467.3,472.9 467.4,473.9 468.1,473.2 468.8,471.6 469.5,468.4 470.2,470.4 470.8,468.0 470.9,467.3 471.6,464.3 472.3,463.6 472.9,460.4 473.0,459.6 473.6,459.6 474.3,455.8 475.0,450.0 475.7,438.9 475.9,440.4 476.4,444.3 477.1,449.6 477.7,450.7 477.8,451.3 478.5,464.0 478.7,467.3 479.2,467.8 479.9,464.0 480.6,463.5 481.2,463.9 481.2,465.8 481.9,466.8 482.6,470.1 482.6,470.0 483.3,469.1 484.0,470.3 484.7,472.5 485.3,472.2 485.4,470.3 486.1,472.5 486.8,470.1 487.4,468.7 487.5,467.6 488.2,472.4 488.8,473.1 489.5,476.3 489.7,475.6 490.2,473.8 490.9,471.5 491.6,470.4 492.3,467.1 492.9,467.3 493.0,468.7 493.7,470.4 494.4,474.4 494.7,476.3 495.1,474.9 495.7,472.8 496.4,468.8 497.1,468.0 497.1,465.8 497.8,469.0 498.5,468.9 499.2,472.4 499.9,470.5 500.6,471.6 501.2,472.9 501.3,471.1 502.0,470.5 502.7,471.6 503.3,470.2 504.0,467.8 504.7,470.1 505.4,466.8 505.8,466.0 506.1,468.8 506.8,470.8 507.5,472.8 508.2,472.3 508.8,475.0 508.9,475.9 509.6,474.5 510.3,473.0 510.9,471.5 510.9,470.1 511.6,474.1 512.3,473.9 513.0,474.7 513.7,475.0 514.4,476.4 515.1,476.8 515.8,478.3 516.5,477.9 517.2,479.3 517.8,479.4 518.5,480.2 519.2,479.9 519.9,480.1 520.6,480.8 521.3,479.9 522.0,480.6 522.7,481.1 523.4,481.2 524.1,481.5 524.8,482.8 525.4,481.0 526.1,480.9 526.8,479.9 527.5,479.9 528.2,479.7 528.9,481.2 529.6,474.2 529.9,472.2 530.3,477.1 531.0,482.0 531.7,479.8 532.4,480.5 533.0,479.8 533.7,480.2 534.4,479.2 535.1,479.3 535.8,478.0 536.5,480.3 537.2,479.2 537.9,478.7 538.6,479.4 539.3,479.6 539.9,478.6 540.6,479.2 541.3,479.4 542.0,479.4 542.7,479.6 543.4,479.5 544.1,479.8 544.8,480.9 545.5,480.0 546.2,479.7 546.9,478.5 547.5,479.5 548.2,479.4 548.9,479.4 549.6,480.0 550.3,480.0 551.0,478.9 551.7,479.3 552.4,478.7 553.1,480.8 553.8,481.2 554.4,478.2 554.9,476.3 555.1,478.0 555.8,481.4 556.5,480.8 557.2,481.5 557.9,481.1 558.6,480.6 559.3,481.1 560.0,481.2 560.7,480.5 561.4,480.5 562.0,480.5 562.7,481.6 563.4,481.4 564.1,480.7 564.8,480.8 565.5,480.5 566.2,480.4 566.9,480.4 567.6,480.1 568.3,479.3 569.0,480.3 569.6,481.0 570.3,480.5 571.0,480.6 571.7,480.6 572.4,480.6 573.1,480.6 573.8,480.6 574.5,480.6 575.2,480.6 575.9,480.6 576.5,480.6 577.2,480.6 577.9,480.6 578.6,480.6 579.3,480.6 580.0,480.6 580.7,480.6 581.4,480.6 582.1,480.6 582.8,480.6 583.5,480.6 584.1,480.6 584.8,480.6 585.5,480.6 586.2,480.6 586.9,480.6 587.6,480.6 588.3,480.6 589.0,480.6 589.7,480.6 590.4,480.6 591.1,480.6 591.7,480.6 592.4,480.6 593.1,480.6 593.8,480.6 594.5,480.6 595.2,480.6 595.9,480.6 596.6,480.6 597.3,480.6 598.0,480.6 598.6,480.6 599.3,480.6 600.0,480.6 600.7,480.6 601.4,480.6 602.1,480.6 602.8,480.6 603.5,480.6 604.2,480.6 604.9,480.6 605.6,480.6 606.2,480.6 606.9,480.6 607.6,480.6 608.3,480.6 609.0,480.6 609.7,480.6 610.4,480.6 611.1,480.6 611.8,480.6 612.5,480.6 613.2,480.6 613.8,480.6 614.5,480.6 615.2,480.6 615.9,480.6 616.6,480.6 617.3,480.6 618.0,480.6 618.7,480.6 619.4,480.6 620.1,480.6 620.7,480.6 621.4,480.6 622.1,480.6 622.8,480.6 623.5,480.6 624.2,480.6 624.9,480.6 625.6,480.6 626.3,480.6 627.0,480.6 627.7,480.6 628.3,480.6 629.0,480.6 629.7,480.6 630.4,480.6 631.1,480.3 631.8,477.9 632.0,476.1 632.5,477.4 633.2,475.3 633.9,476.7 634.5,476.1 634.6,477.4 635.3,480.7 635.9,480.9 636.6,480.6 637.3,480.6 638.0,480.6 638.7,480.6 639.4,480.6 640.1,480.6 640.8,480.6 641.5,480.6 642.2,480.6 642.8,480.6 643.5,479.8 644.2,480.0 644.9,481.1 645.6,480.6 646.3,480.6 647.0,480.6 647.7,480.6 648.4,480.6 649.1,480.6 649.8,480.6 650.4,480.6 651.1,480.6 651.8,480.6 652.5,480.1 653.2,480.9 653.9,480.6 654.6,480.6 655.3,480.7 656.0,480.9 656.7,480.5 657.3,480.3 658.0,479.3 658.7,480.0 659.4,480.3 660.1,479.8 660.8,479.8 661.5,480.0 662.2,479.8 662.9,480.3 663.6,480.6 664.3,480.4 664.9,479.7 665.6,480.1 666.3,479.1 667.0,478.6 667.7,476.8 668.4,475.3 669.0,472.4 669.1,470.9 669.8,475.8 670.5,477.7 671.2,479.5 671.9,479.6 672.5,480.3 673.2,479.8 673.9,479.9 674.6,479.6 675.3,479.3 676.0,479.9 676.7,479.4 677.4,479.2 678.1,479.4 678.8,479.7 679.4,479.3 680.1,479.2 680.8,481.7 681.5,480.0 682.2,479.7 682.9,477.9 683.6,479.4 684.3,479.8 685.0,479.5 685.7,480.1 686.4,479.5 687.0,480.0 687.7,479.5 688.4,480.4 689.1,479.5 689.8,480.6 690.5,479.7 691.2,480.2 691.9,480.0 692.6,480.3 693.3,480.6 694.0,479.3 694.6,480.4 695.3,479.9 696.0,479.4 696.7,480.0 697.4,480.4 698.1,482.2 698.8,480.1 699.5,480.2 700.2,480.7 700.9,480.6 701.5,479.6 702.2,480.2 702.9,480.3 703.6,480.7 704.3,480.5 705.0,480.6 705.7,480.5 706.4,480.0 707.1,479.9 707.8,481.0 708.5,480.3 709.1,481.1 709.8,480.5 710.5,480.0 711.2,479.9 711.9,480.1 712.6,480.2 713.3,480.1 714.0,479.6 714.7,480.0 715.4,479.7 716.1,478.4 716.7,479.0 717.4,478.9 718.1,477.5 718.8,477.9 719.5,478.4 720.2,477.8 720.9,476.7 721.6,478.4 722.3,478.2 723.0,476.3 723.6,476.5 724.3,476.5 725.0,478.9 725.7,478.8 726.4,480.2 727.1,479.3 727.8,479.4 728.5,481.1 729.2,480.0 729.9,479.9 730.6,479.4 731.2,480.2 731.9,479.8 732.6,480.3 733.3,478.9 734.0,479.6 734.7,478.8 735.4,479.7 736.1,478.5 736.8,475.2 737.5,477.5 738.0,476.6 738.1,476.6 738.8,475.1 739.5,475.8 740.2,473.0 740.8,473.4 740.9,472.7 741.6,474.4 742.3,476.1 743.0,474.8 743.0,476.1 743.7,477.2 744.4,476.5 745.1,478.4 745.7,478.8 746.4,479.6 747.1,478.8 747.8,479.3 748.5,479.7 749.2,479.3 749.9,478.7 750.6,479.4 751.3,480.3 752.0,479.3 752.7,481.2 753.3,479.3 754.0,478.3 754.7,478.6 755.4,479.7 756.1,477.9 756.8,479.2 757.5,477.4 758.2,478.8 758.9,478.0 759.6,476.6 760.2,476.0 760.9,477.0 761.6,477.0 762.0,476.2 762.3,475.3 763.0,476.7 763.7,478.1 764.4,477.7 765.1,479.5 765.8,476.9 766.5,479.3 767.2,478.2 767.8,479.2 768.5,480.1 769.2,479.9 769.9,481.2 770.6,480.7 771.3,480.8 772.0,481.7 772.7,480.5 773.4,481.4 774.1,481.1 774.8,481.4 775.4,480.8 776.1,480.8 776.8,481.3 777.5,480.7 778.2,481.3 778.9,480.9 779.6,480.4 780.3,480.6 781.0,481.5 781.7,480.5 782.3,481.2 783.0,480.4 783.7,481.1 784.4,481.2 785.1,481.4 785.8,481.2 786.5,480.2 787.2,476.4 787.9,478.9 788.6,480.0 789.3,479.7 789.9,479.8 790.6,480.2 791.3,479.7 792.0,478.9 792.7,479.7 793.4,478.7 794.1,477.5 794.8,478.7 795.5,479.5 796.2,481.4 796.9,479.0 797.5,479.0 798.2,479.7 798.9,473.4 799.5,463.6 799.6,466.4 800.3,463.7 801.0,461.4 801.6,463.6 801.7,460.7 802.4,469.4 803.1,472.9 803.8,473.4 803.9,475.6 804.4,474.6 805.1,476.4 805.8,477.9 806.5,474.0 807.2,474.2 807.9,470.8 807.9,472.4 808.6,473.9 809.3,475.3 810.0,478.8 810.7,478.6 811.4,478.7 812.0,477.7 812.7,478.0 813.4,476.5 814.1,476.4 814.8,479.8 815.5,480.6 816.2,479.8 816.9,480.2 817.6,480.0 818.3,481.6 818.9,479.9 819.6,479.4 820.3,479.8 821.0,479.9 821.7,481.3 822.4,480.3 823.1,479.7 823.8,479.8 824.5,479.1 825.2,479.1 825.9,479.6 826.5,480.0 827.2,480.2 827.9,480.0 828.6,479.0 829.3,478.8 830.0,477.8 830.7,479.4 831.4,477.9 832.1,477.1 832.8,476.4 833.5,476.2 834.1,473.6 834.8,473.6 835.3,473.1 835.5,472.6 836.2,470.9 836.9,473.6 837.6,469.2 837.8,471.2 838.3,472.3 839.0,475.5 839.1,475.6 839.7,475.0 840.4,476.8 841.0,475.3 841.7,476.6 842.4,476.8 843.1,475.5 843.8,476.1 844.5,476.6 844.7,475.6 845.2,471.6 845.9,470.8 846.6,461.9 847.3,462.0 848.0,454.2 848.5,452.3 848.6,448.1 849.3,457.5 849.8,461.6 850.0,458.6 850.7,457.1 851.3,451.1 851.4,458.0 852.1,464.5 852.3,463.0 852.8,465.3 853.5,461.3 854.2,462.3 854.2,461.7 854.9,465.8 855.4,469.3 855.6,467.7 856.2,473.1 856.9,474.3 857.6,474.5 858.3,478.0 859.0,478.3 859.7,476.8 860.4,476.8 860.5,475.6 861.1,474.9 861.8,474.0 862.3,471.8 862.5,470.5 863.1,466.5 863.8,465.4 864.5,458.3 864.9,457.3 865.2,459.7 865.9,466.6 866.6,466.3 866.7,469.3 867.3,471.2 868.0,472.2 868.0,470.6 868.7,471.0 869.4,466.2 869.9,465.6 870.1,465.4 870.5,473.1 870.7,471.7 871.4,472.3 872.1,472.0 872.4,470.6 872.8,471.5 873.5,465.3 874.2,463.0 874.3,463.0 874.9,466.3 875.6,467.3 876.2,470.6 876.3,471.0 877.0,470.3 877.7,472.6 878.1,474.3 878.3,474.5 879.0,470.0 879.7,472.1 879.9,469.3 880.4,470.5 881.1,472.8 881.8,475.2 881.8,474.3 882.5,473.6 883.2,467.6 883.9,469.5 884.1,465.6 884.6,468.4 885.2,471.6 885.6,475.6 885.9,477.3 886.6,478.6 887.3,479.4 888.0,479.5 888.7,477.2 889.4,478.0 890.1,476.1 890.8,476.5 891.5,477.3 892.2,476.8 892.8,477.6 893.5,477.9 894.2,477.9 894.9,477.3 895.6,477.5 895.7,476.2 896.3,475.8 897.0,473.5 897.7,472.7 898.4,471.0 898.8,471.8 899.1,471.5 899.7,474.5 900.4,474.9 900.7,475.6 901.1,476.2 901.8,476.0 902.5,477.4 903.2,478.6 903.9,476.7 904.6,477.9 905.3,477.7 906.0,476.0 906.7,474.8 907.3,474.7 908.0,475.4 908.7,473.1 909.4,474.4 909.5,473.7 910.1,476.3 910.8,476.6 911.5,478.9 912.2,476.9 912.9,476.2 913.6,474.4 913.9,474.9 914.3,474.2 914.9,471.4 915.6,470.3 916.3,469.9 916.4,468.7 917.0,470.6 917.7,468.9 918.3,469.9 918.4,472.1 919.1,468.8 919.8,472.9 920.5,474.0 920.8,472.4 921.2,474.2 921.8,471.3 922.5,473.9 923.2,475.0 923.3,473.7 923.9,476.0 924.6,476.7 925.3,475.7 926.0,476.2 926.7,474.9 927.4,473.7 928.1,475.0 928.3,473.1 928.8,472.0 929.4,472.0 930.1,468.8 930.8,469.3 930.8,467.6 931.5,465.9 932.2,469.5 932.7,466.1 932.9,464.8 933.6,468.0 934.0,471.8 934.3,468.9 935.0,470.9 935.6,466.8 935.7,468.8 936.4,471.6 937.0,474.1 937.1,472.4 937.7,471.3 938.4,471.7 939.1,472.7 939.8,472.3 940.3,473.7 940.5,472.9 941.2,473.0 941.9,472.8 942.6,471.7 942.8,469.3 943.3,469.8 943.9,474.6 944.6,476.5 944.7,476.2 945.3,474.7 946.0,474.5 946.7,471.8 947.2,469.3 947.4,470.8 948.1,470.1 948.8,473.0 949.5,474.5 949.7,474.3 950.2,473.4 950.9,475.8 951.5,475.9 952.2,475.0 952.9,475.4 953.5,472.4 953.6,472.9 954.3,473.7 955.0,473.4 955.7,475.7 956.0,475.6 956.4,475.4 957.1,476.6 957.8,478.0 958.5,477.3 959.1,478.2 959.8,478.0 960.5,476.9 961.0,475.6 961.2,475.0 961.9,475.0 962.6,478.0 963.3,477.4 964.0,477.3 964.7,476.2 965.4,477.4 966.0,476.2 966.7,476.3 967.3,475.6 967.4,474.6 968.1,475.9 968.8,473.4 969.5,475.2 969.8,474.3 970.2,475.6 970.9,474.6 971.6,475.8 972.3,477.4 973.0,476.6 973.6,478.4 974.3,475.6 974.8,475.6 975.0,473.6 975.7,468.8 976.4,465.2 976.7,464.3 977.1,464.9 977.8,463.9 978.5,463.3 978.6,462.4 979.2,459.9 979.4,463.0 979.9,468.4 980.5,467.8 980.7,470.6 981.2,474.3 981.9,475.6 982.6,477.4 983.3,475.2 984.0,475.7 984.7,475.5 985.4,473.3 985.7,474.3 986.1,475.1 986.8,474.0 987.5,473.5 988.1,472.4 988.8,472.2 988.9,473.1 989.5,473.5 990.2,475.4 990.7,475.6 990.9,476.0 991.6,476.0 992.3,473.3 993.0,473.4 993.3,473.7 993.7,473.5 994.4,476.5 995.1,476.9 995.7,477.4 996.4,477.1 997.1,474.7 997.8,475.4 998.3,473.7 998.5,475.3 999.2,476.9 999.9,478.0 1000.6,478.5 1001.3,475.0 1002.0,473.7 1002.1,471.8 1002.6,474.7 1003.3,477.6 1004.0,475.4 1004.7,475.8 1005.4,477.3 1006.1,474.8 1006.8,477.0 1007.5,476.0 1007.7,475.6 1008.2,473.5 1008.9,473.2 1009.6,472.5 1010.2,472.8 1010.9,471.8 1010.9,473.2 1011.6,472.6 1012.3,475.6 1013.0,476.4 1013.4,476.2 1013.7,476.1 1014.4,476.4 1015.1,474.5 1015.8,472.2 1015.9,473.1 1016.5,473.0 1017.2,474.3 1017.8,474.6 1018.4,475.6 1018.5,475.8 1019.2,476.9 1019.9,475.9 1020.6,476.7 1021.3,476.1 1022.0,475.7 1022.7,476.7 1023.4,476.2 1024.0,476.2 1024.1,475.6 1024.7,476.8 1025.4,477.6 1026.1,476.8 1026.8,476.7 1027.5,477.1 1028.2,477.4 1028.9,478.3 1029.6,478.1 1030.3,477.8 1031.0,478.3 1031.7,477.9 1032.3,478.0 1033.0,476.8 1033.7,478.4 1034.4,477.8 1035.1,478.5 1035.8,478.8 1036.5,478.9 1037.2,479.5 1037.9,478.8 1038.6,479.6 1039.3,481.2 1039.9,479.8 1040.6,480.1 1041.3,479.3 1042.0,479.5 1042.7,480.2 1043.4,479.3 1044.1,479.7 1044.8,478.9 1045.5,479.0 1046.2,479.4 1046.8,477.9 1047.5,478.8 1048.2,479.1 1048.9,478.5 1049.6,477.9 1050.3,477.9 1051.0,476.8 1051.7,477.4 1052.4,479.1 1053.1,481.2 1053.8,478.9 1054.4,480.0 1055.1,480.0 1055.8,479.6 1056.5,479.7 1057.2,479.3 1057.9,480.2 1058.6,479.3 1059.3,479.5 1060.0,480.1 1060.7,479.5 1061.3,479.4 1062.0,480.1 1062.7,479.2 1063.4,479.5 1064.1,480.0 1064.8,480.1 1065.5,478.7 1066.2,479.3 1066.9,480.1 1067.6,479.6 1068.3,479.4 1068.9,479.8 1069.6,479.1 1070.3,478.4 1071.0,479.1 1071.7,478.1 1072.4,478.5 1073.1,477.7 1073.8,477.2 1074.5,478.6 1075.2,479.9 1075.9,477.4 1076.5,478.1 1077.2,478.7 1077.9,479.1 1078.6,479.4 1079.3,478.9 1080.0,479.4 1080.7,479.7 1081.4,479.2 1082.1,479.2 1082.8,478.6 1083.4,479.9 1084.1,477.2 1084.8,477.4 1085.5,477.9 1086.2,476.5 1086.9,475.6 1086.9,475.3 1087.6,474.3 1088.3,474.2 1089.0,475.7 1089.7,475.9 1090.4,476.8 1090.7,475.6 1091.0,475.3 1091.7,476.8 1092.4,477.2 1093.1,477.8 1093.8,478.1 1094.5,476.7 1095.2,478.3 1095.9,476.7 1096.6,480.4 1097.3,478.8 1098.0,479.4 1098.6,478.3 1099.3,479.0 1100.0,478.5 1100.7,478.7 1101.4,478.7 1102.1,479.2 1102.8,478.1 1103.5,478.9 1104.2,478.2 1104.9,478.7 1105.5,478.5 1106.2,477.4 1106.9,478.5 1107.6,477.9 1108.3,478.4 1109.0,478.7 1109.7,478.5 1110.4,479.2 1111.1,481.6 1111.8,480.0 1112.5,480.9 1113.1,479.1 1113.8,479.6 1114.5,478.6 1115.2,479.4 1115.9,479.0 1116.6,478.6 1117.3,477.9 1118.0,477.0 1118.7,476.6 1119.4,477.2 1120.1,478.1 1120.7,476.5 1121.4,476.7 1122.1,477.9 1122.8,477.2 1123.5,476.5 1124.2,476.6 1124.9,477.5 1125.6,477.6 1126.3,477.8 1127.0,479.2 1127.6,479.2 1128.3,482.0 1129.0,480.2 1129.7,479.6 1130.4,480.1 1131.1,482.0 1131.8,479.7 1132.5,480.0 1133.2,480.1 1133.9,480.0 1134.6,479.8 1135.2,479.7 1135.9,480.2 1136.6,478.5 1137.3,480.2 1138.0,479.7 1138.7,479.6 1139.4,480.2 1140.1,478.4 1140.8,479.6 1141.5,479.8 1142.2,479.6 1142.8,479.9 1143.5,480.1 1144.2,479.6 1144.9,480.1 1145.6,479.9 1146.3,479.6 1147.0,480.1 1147.7,479.7 1148.4,481.2 1149.1,480.0 1149.7,479.5 1150.4,479.9 1151.1,478.0 1151.8,479.8 1152.5,479.9 1153.2,479.9 1153.9,479.9 1154.6,479.9 1155.3,481.5 1156.0,479.3 1156.7,479.3 1157.3,477.7 1158.0,477.9 1158.7,479.2 1159.4,479.4 1160.1,479.5 1160.8,479.4 1161.5,479.6 1162.2,479.6 1162.9,477.7 1163.6,479.1 1164.2,477.7 1164.9,479.4 1165.6,479.3 1166.3,479.2 1167.0,477.3 1167.7,480.5 1168.4,478.8 1169.1,479.0 1169.8,478.9 1170.5,478.8 1171.2,478.1 1171.8,476.4 1172.5,478.3 1173.2,475.6 1173.9,471.3 1174.6,475.6 1175.3,476.2 1176.0,478.1 1176.7,478.0 1177.4,478.2 1178.1,478.5 1178.8,478.7 1179.4,478.5 1180.1,477.4 1180.8,479.1 1181.5,478.8 1182.2,479.0 1182.9,478.8 1183.6,478.9 1184.3,479.2 1185.0,479.0 1185.7,479.2 1186.3,479.1 1187.0,478.8 1187.7,479.3 1188.4,479.1 1189.1,479.2 1189.8,478.9 1190.5,478.6 1191.2,479.0 1191.9,476.4 1192.6,473.8 1193.3,475.8 1193.9,477.6 1194.6,479.3 1195.3,481.0 1196.0,479.2 1196.7,479.5 1197.4,479.5 1198.1,479.8 1198.8,479.7 1199.5,479.8 1200.2,481.1 1200.9,479.8 1201.5,481.5 1202.2,479.5 1202.9,479.6 1203.6,479.9 1204.3,481.2 1205.0,479.9 1205.7,479.7 1206.4,479.9 1207.1,479.9 1207.8,477.9 1208.4,479.7 1209.1,480.0 1209.8,479.5 1210.5,479.8 1211.2,479.8 1211.9,479.5 1212.6,479.8 1213.3,479.8 1214.0,479.4 1214.7,479.4 1215.4,481.2 1216.0,479.7 1216.7,479.4 1217.4,479.7 1218.1,479.7 1218.8,479.9 1219.5,481.3 1220.2,479.8 1220.9,479.4 1221.6,479.5 1222.3,479.3 1223.0,479.8 1223.6,479.6 1224.3,479.6 1225.0,479.2 1225.7,479.6 1226.4,479.5 1227.1,479.5 1227.8,477.7 1228.5,479.3 1229.2,479.3 1229.9,479.3 1230.5,477.8 1231.2,479.4 1231.9,479.2 1232.6,476.1 1233.3,475.2 1234.0,478.8 1234.7,479.3 1235.4,479.3 1236.1,479.4 1236.8,479.4 1237.5,479.6 1238.1,479.4 1238.8,481.0 1239.5,479.5 1240.2,479.6 1240.9,479.4 1241.6,479.1 1242.3,477.6 1243.0,479.7 1243.7,481.1 1244.4,479.5 1245.0,477.7 1245.7,479.6 1246.4,477.7 1247.1,479.5 1247.8,479.3 1248.5,479.2 1249.2,479.4 1249.9,479.3 1250.6,479.2 1251.3,478.8 1252.0,478.9 1252.6,478.7 1253.3,478.1 1254.0,476.3 1254.7,474.7 1255.4,476.8 1256.1,479.2 1256.8,479.2 1257.5,479.3 1258.2,479.2 1258.9,479.3 1259.6,479.0 1260.2,479.3 1260.9,477.8 1261.6,479.3 1262.3,479.6 1263.0,479.0 1263.7,477.1 1264.4,478.3 1265.1,480.6 1265.8,479.4 1266.5,479.1 1267.1,478.9 1267.8,478.8 1268.5,479.1 1269.2,479.2 1269.9,479.0 1270.6,478.8 1271.3,477.5 1272.0,479.2 1272.7,479.1 1273.4,478.9 1274.1,479.1 1274.7,479.0 1275.4,479.2 1276.1,478.9 1276.8,479.2 1277.5,477.6 1278.2,476.3 1278.9,476.7 1279.6,478.3 1280.3,477.6 1281.0,479.3 1281.7,479.2 1282.3,479.4 1283.0,479.1 1283.7,478.9 1284.4,479.5 1285.1,479.1 1285.8,480.9 1286.5,479.4 1287.2,479.3 1287.9,479.5 1288.6,479.4 1289.2,479.3 1289.9,479.1 1290.6,477.9 1291.3,479.7 1292.0,478.1 1292.7,479.7 1293.4,479.4 1294.1,481.1 1294.8,479.9 1295.5,479.7 1296.2,479.8 1296.8,478.3 1297.5,479.6 1298.2,480.0 1298.9,481.7 1299.6,479.8 1300.3,480.1 1301.0,480.1 1301.7,480.2 1302.4,480.4 1303.1,480.3 1303.8,480.4 1304.4,480.4 1305.1,480.5 1305.8,480.5 1306.5,480.7 1307.2,480.5 1307.9,480.5 1308.6,480.5 1309.3,480.5 1310.0,480.5 1310.7,480.6 1311.3,480.7 1312.0,480.6 1312.7,480.6 1313.4,480.6 1314.1,480.6 1314.8,480.6 1315.5,480.3 1316.2,479.3 1316.9,480.6 1317.6,480.6 1318.3,480.6 1318.9,480.6 1319.6,480.6 1320.3,480.6 1321.0,480.6 1321.7,480.6 1322.4,480.6 1323.1,480.6 1323.8,480.6 1324.5,480.6 1325.2,480.6 1325.8,480.6 1326.5,480.6 1327.2,480.4 1327.9,480.6 1328.6,480.6 1329.3,480.6 1330.0,480.4 1330.7,480.6 1331.4,480.4 1332.1,478.8 1332.8,480.5 1333.4,480.5 1334.1,480.5 1334.8,480.5 1335.5,480.3 1336.2,480.4 1336.9,480.4 1337.6,480.4 1338.3,480.4 1339.0,480.4 1339.7,480.4 1340.4,480.4 1341.0,480.4 1341.7,480.4 1342.4,480.3 1343.1,480.3 1343.8,480.3 1344.5,480.3 1345.2,480.3 1345.9,480.3 1346.6,480.3 1347.3,480.4 1347.9,480.4 1348.6,480.2 1349.3,480.4 1350.0,480.2 1350.7,480.4 1351.4,480.4 1352.1,480.5 1352.8,480.5 1353.5,480.5 1354.2,479.6 1354.9,479.1 1355.5,480.6 1356.2,480.6 1356.9,480.8 1357.6,480.6 1358.3,480.6 1359.0,480.6 1359.7,480.4 1360.4,480.6 1361.1,480.6 1361.8,480.6 1362.5,480.6 1363.1,479.8 1363.8,479.1 1364.5,480.6 1365.2,480.8 1365.9,480.6 1366.6,480.4 1367.3,480.6 1368.0,480.6 1368.7,480.8 1369.4,480.4 1370.0,480.6 1370.7,480.6 1371.4,480.6 1372.1,480.4 1372.8,480.6 1373.5,480.4 1374.2,480.6 1374.9,480.6 1375.6,480.6 1376.3,480.8 1377.0,480.6 1377.6,480.6 1378.3,480.6 1379.0,480.6 1379.7,480.6 1380.4,480.6 1381.1,480.6 1381.8,480.6 1382.5,480.6 1383.2,480.6 1383.9,480.6 1384.6,480.4 1385.2,480.6 1385.9,480.4 1386.6,480.6 1387.3,480.6 1388.0,480.6 1388.7,480.6 1389.4,480.6 1390.1,480.6 1390.8,480.6 1391.5,480.6 1392.1,480.6 1392.8,480.6 1393.5,480.6 1394.2,480.6 1394.9,480.6 1395.6,480.6" fill="none" stroke="#34cfc4" stroke-width="2" stroke-linejoin="round" stroke-linecap="butt"/>
<path d="M301 511H1396" stroke="#505050" stroke-width="2" shape-rendering="crispEdges"/>
<g stroke="#505050" stroke-width="1" shape-rendering="crispEdges">
<path d="M301.5 512V517"/>
<path d="M483.5 512V517"/>
<path d="M666.5 512V517"/>
<path d="M848.5 512V517"/>
<path d="M1031.5 512V517"/>
<path d="M1213.5 512V517"/>
<path d="M1395.5 512V517"/>
</g>
<rect x="394" y="488" width="16" height="16" rx="2" fill="#a3a3a3"/>
<path d="M399.2 491.300v9.400l6.600-4.700z" fill="#141414"/>
<rect x="428" y="488" width="16" height="16" rx="2" fill="#a3a3a3"/>
<path d="M433.2 491.300v9.400l6.600-4.700z" fill="#141414"/>
<rect x="452" y="488" width="16" height="16" rx="2" fill="#a3a3a3"/>
<text x="460" y="500" text-anchor="middle" font-family="Liberation Sans, sans-serif" font-weight="700" font-size="11" fill="#fff" stroke="#fff" stroke-width=".25">2</text>
<rect x="522" y="488" width="16" height="16" rx="2" fill="#a3a3a3"/>
<text x="530" y="500" text-anchor="middle" font-family="Liberation Sans, sans-serif" font-weight="700" font-size="11" fill="#fff" stroke="#fff" stroke-width=".25">2</text>
<rect x="544" y="488" width="16" height="16" rx="2" fill="#a3a3a3"/>
<path d="M549.2 491.300v9.400l6.600-4.700z" fill="#141414"/>
<rect x="660" y="488" width="16" height="16" rx="2" fill="#a3a3a3"/>
<path d="M665.2 491.300v9.400l6.600-4.700z" fill="#141414"/>
<rect x="681" y="488" width="16" height="16" rx="2" fill="#a3a3a3"/>
<path d="M686.2 491.300v9.400l6.600-4.700z" fill="#141414"/>
<rect x="724" y="488" width="16" height="16" rx="2" fill="#a3a3a3"/>
<path d="M729.2 491.300v9.400l6.600-4.700z" fill="#141414"/>
<rect x="762" y="488" width="16" height="16" rx="2" fill="#a3a3a3"/>
<path d="M767.2 491.300v9.400l6.600-4.700z" fill="#141414"/>
<rect x="788" y="488" width="16" height="16" rx="2" fill="#a3a3a3"/>
<text x="796" y="500" text-anchor="middle" font-family="Liberation Sans, sans-serif" font-weight="700" font-size="11" fill="#fff" stroke="#fff" stroke-width=".25">4</text>
<rect x="835" y="488" width="16" height="16" rx="2" fill="#a3a3a3"/>
<text x="843" y="500" text-anchor="middle" font-family="Liberation Sans, sans-serif" font-weight="700" font-size="11" fill="#fff" stroke="#fff" stroke-width=".25">2</text>
<rect x="864" y="488" width="16" height="16" rx="2" fill="#a3a3a3"/>
<path d="M869.2 491.300v9.400l6.600-4.700z" fill="#141414"/>
<rect x="933" y="488" width="16" height="16" rx="2" fill="#a3a3a3"/>
<path d="M938.2 491.300v9.400l6.600-4.700z" fill="#141414"/>
<rect x="969" y="488" width="16" height="16" rx="2" fill="#a3a3a3"/>
<path d="M974.2 491.300v9.400l6.600-4.700z" fill="#141414"/>
<rect x="1024" y="488" width="16" height="16" rx="2" fill="#a3a3a3"/>
<path d="M1029.2 491.300v9.400l6.600-4.700z" fill="#141414"/>
<rect x="1054" y="488" width="16" height="16" rx="2" fill="#a3a3a3"/>
<path d="M1059.2 491.300v9.400l6.600-4.700z" fill="#141414"/>
<rect x="1210" y="488" width="16" height="16" rx="2" fill="#a3a3a3"/>
<text x="1218" y="500" text-anchor="middle" font-family="Liberation Sans, sans-serif" font-weight="700" font-size="11" fill="#fff" stroke="#fff" stroke-width=".25">4</text>
<rect x="1231" y="488" width="16" height="16" rx="2" fill="#a3a3a3"/>
<text x="1239" y="500" text-anchor="middle" font-family="Liberation Sans, sans-serif" font-weight="700" font-size="11" fill="#fff" stroke="#fff" stroke-width=".25">3</text>
<rect x="1255" y="488" width="16" height="16" rx="2" fill="#a3a3a3"/>
<text x="1263" y="500" text-anchor="middle" font-family="Liberation Sans, sans-serif" font-weight="700" font-size="11" fill="#fff" stroke="#fff" stroke-width=".25">4</text>
<rect x="1294" y="488" width="16" height="16" rx="2" fill="#a3a3a3"/>
<text x="1302" y="500" text-anchor="middle" font-family="Liberation Sans, sans-serif" font-weight="700" font-size="11" fill="#fff" stroke="#fff" stroke-width=".25">2</text>
<rect x="1323" y="488" width="16" height="16" rx="2" fill="#a3a3a3"/>
<text x="1331" y="500" text-anchor="middle" font-family="Liberation Sans, sans-serif" font-weight="700" font-size="11" fill="#fff" stroke="#fff" stroke-width=".25">2</text>
<g font-family="Liberation Sans, sans-serif" font-size="12" fill="#aaa">
<text x="1416" y="374.8" letter-spacing="-.35">R$ 75,00</text>
<text x="1416" y="411.8" letter-spacing="-.35">R$ 50,00</text>
<text x="1416" y="448.3" letter-spacing="-.35">R$ 25,00</text>
<text x="1416" y="484.8" letter-spacing="-.35">R$ 0,00</text>
<text x="301" y="531.500" text-anchor="start" letter-spacing="-.1" stroke="#aaa" stroke-width=".2">3 de set. de 2...</text>
<text x="483.3" y="531.500" text-anchor="middle" letter-spacing="-.1" stroke="#aaa" stroke-width=".2">25 de mai. de 2022</text>
<text x="665.8" y="531.500" text-anchor="middle" letter-spacing="-.1" stroke="#aaa" stroke-width=".2">13 de fev. de 2023</text>
<text x="848.4" y="531.500" text-anchor="middle" letter-spacing="-.1" stroke="#aaa" stroke-width=".2">5 de nov. de 2023</text>
<text x="1031" y="531.500" text-anchor="middle" letter-spacing="-.1" stroke="#aaa" stroke-width=".2">26 de jul. de 2024</text>
<text x="1213.4" y="531.500" text-anchor="middle" letter-spacing="-.1" stroke="#aaa" stroke-width=".2">16 de abr. de 2025</text>
<text x="1396" y="531.500" text-anchor="end" letter-spacing="-.1" stroke="#aaa" stroke-width=".2">5 de jan. de 20...</text>
</g>
</svg><!--CHART-E-->
<div class="pill" style="left:301px;top:569px;width:87px;height:36px;line-height:35px">Ver mais</div>

<div class="card" style="left:276px;top:654px;width:604px;height:300px"></div>
<div class="t" style="left:301px;top:680px;font-size:18px;-webkit-text-stroke:.5px #fff">Seus ganhos</div>
<svg class="abs" style="left:417px;top:681px" width="16" height="16" viewBox="0 0 16 16" fill="none" stroke="#fff" stroke-width="1.350" stroke-linecap="round" stroke-linejoin="round"><circle cx="8" cy="8" r="6.600"/><path d="M8 4.300V8l2.400 1.600"/></svg>
<div class="t" style="left:301px;top:706px;font-size:13px;color:#aaa">Estimativa · Últimos seis meses</div>
<div class="t" style="left:301px;top:754px;font-size:13px;-webkit-text-stroke:.25px #fff">janeiro (em curso)</div><div class="abs" style="left:784px;top:757px;width:8px;height:8px;border-radius:4px;background:#3bcfc5"></div><div class="t" style="left:804px;top:754px;font-size:13px;-webkit-text-stroke:.25px #fff;letter-spacing:-.33px">R$ 0,08</div>
<div class="t" style="left:301px;top:794px;font-size:13px;-webkit-text-stroke:.25px #fff">dezembro</div><div class="abs" style="left:752px;top:797px;width:40px;height:8px;border-radius:4px;background:#3bcfc5"></div><div class="t" style="left:804px;top:794px;font-size:13px;-webkit-text-stroke:.25px #fff;letter-spacing:-.33px">R$ 1,95</div>
<div class="t" style="left:301px;top:834px;font-size:13px;-webkit-text-stroke:.25px #fff">novembro</div><div class="abs" style="left:719px;top:837px;width:73px;height:8px;border-radius:4px;background:#3bcfc5"></div><div class="t" style="left:804px;top:834px;font-size:13px;-webkit-text-stroke:.25px #fff;letter-spacing:-.33px">R$ 3,51</div>
<div class="t" style="left:301px;top:874px;font-size:13px;-webkit-text-stroke:.25px #fff">outubro</div><div class="abs" style="left:640px;top:877px;width:152px;height:8px;border-radius:4px;background:#3bcfc5"></div><div class="t" style="left:804px;top:874px;font-size:13px;-webkit-text-stroke:.25px #fff;letter-spacing:-.33px">R$ 7,32</div>
<div class="t" style="left:301px;top:914px;font-size:13px;-webkit-text-stroke:.25px #fff">setembro</div><div class="abs" style="left:690px;top:917px;width:102px;height:8px;border-radius:4px;background:#3bcfc5"></div><div class="t" style="left:804px;top:914px;font-size:13px;-webkit-text-stroke:.25px #fff;letter-spacing:-.33px">R$ 5,10</div>


<div class="card" style="left:904px;top:654px;width:604px;height:300px"></div>
<div class="t" style="left:929px;top:680px;font-size:18px;-webkit-text-stroke:.5px #fff">Performance do conteúdo</div>
<svg class="abs" style="left:1151px;top:681px" width="16" height="16" viewBox="0 0 16 16" fill="none" stroke="#fff" stroke-width="1.350" stroke-linecap="round" stroke-linejoin="round"><circle cx="8" cy="8" r="6.600"/><path d="M8 4.300V8l2.400 1.600"/></svg>
<div class="t" style="left:929px;top:706px;font-size:13px;color:#aaa">Todo o período</div>
<div class="chip on" style="left:929px;top:745px;width:68px">Vídeos</div>
<div class="chip" style="left:1009px;top:745px;width:66px">Shorts</div>
<div class="abs" style="left:929px;top:806px;width:560px;font-size:15px;line-height:24px;color:#aaa">Os dados abaixo são válidos. Selecione um período que comece após 19 de maio<br>de 2022 para ver mais dados de RPM.</div>
<svg class="abs" style="left:929px;top:883px" width="56" height="32" viewBox="0 0 56 32"><defs><clipPath id="tc"><rect width="56" height="32" rx="2.500"/></clipPath><linearGradient id="hg" x1="0" x2="1" y1="0" y2="0"><stop offset="0" stop-color="#e9e2dc"/><stop offset=".25" stop-color="#bdb2aa"/><stop offset=".5" stop-color="#d9cfc8"/><stop offset=".8" stop-color="#b9aea6"/><stop offset="1" stop-color="#e4dcd5"/></linearGradient></defs><g clip-path="url(#tc)"><rect width="56" height="32" fill="#572a80"/><path d="M22 3c5 1 9 4 10 9-4-3-8-4-12-3z" fill="#7d4fa8" opacity=".7"/><path d="M0 0h34l-1 6H0z" fill="#4a2270" opacity=".6"/>
<text x=".7" y="5.300" font-family="Liberation Sans, sans-serif" font-weight="700" font-size="5.700" fill="#ff4d12" stroke="#ff4d12" stroke-width=".15" textLength="32.500" lengthAdjust="spacingAndGlyphs">INVEJOSOS</text>
<text x=".5" y="13.300" font-family="Liberation Sans, sans-serif" font-weight="700" font-size="6.700" fill="#e4e318" stroke="#e4e318" stroke-width=".15" textLength="25.400" lengthAdjust="spacingAndGlyphs">SEMPRE</text>
<text x="2.800" y="19.300" font-family="Liberation Sans, sans-serif" font-weight="700" font-size="6.400" fill="#d8d616" stroke="#d8d616" stroke-width=".15" textLength="21.300" lengthAdjust="spacingAndGlyphs">FALAM</text>
<text x="4" y="26" font-family="Liberation Sans, sans-serif" font-weight="700" font-size="6.400" fill="#d8d616" stroke="#d8d616" stroke-width=".15" textLength="19" lengthAdjust="spacingAndGlyphs">DISSO</text>
<path d="M35 0H56V32H28C29 22 30 12 31.500 7 32.500 4 33.500 1.500 35 0Z" fill="url(#hg)"/>
<path d="M36 0H54.500C53 2.500 51.500 5 50 8.500 48.500 5.500 46.500 4.200 44 4.200 41.500 4.200 39.500 5.500 38 8.500 37.500 5 37 2.500 36 0Z" fill="#2b211d"/>
<path d="M37.500 9C38 6 40.500 4.300 44 4.300S50 6 50.500 9V32H37.500Z" fill="#fbdccf"/>
<ellipse cx="39.300" cy="12" rx="2.500" ry="1.300" fill="#9a4320"/><ellipse cx="48.600" cy="12" rx="2.500" ry="1.300" fill="#9a4320"/>
<ellipse cx="39.300" cy="12.800" rx="2.100" ry="1" fill="#1c1412"/><ellipse cx="48.600" cy="12.800" rx="2.100" ry="1" fill="#1c1412"/>
<ellipse cx="44" cy="19" rx="1.700" ry="1" fill="#c98a78"/>
</g></svg>
<div class="t" style="left:997px;top:892px;font-size:13px;-webkit-text-stroke:.25px #fff;letter-spacing:-.2px">7 sinais que DENUNCIAM alguém co...</div>
<div class="abs" style="left:1257px;top:895px;width:146px;height:8px;border-radius:4px;background:#3bcfc5"></div>
<div class="t" style="left:1415px;top:892px;font-size:13px;-webkit-text-stroke:.25px #fff;letter-spacing:-.33px">R$ 1.918,86</div>
</div>
</body>
</html>
